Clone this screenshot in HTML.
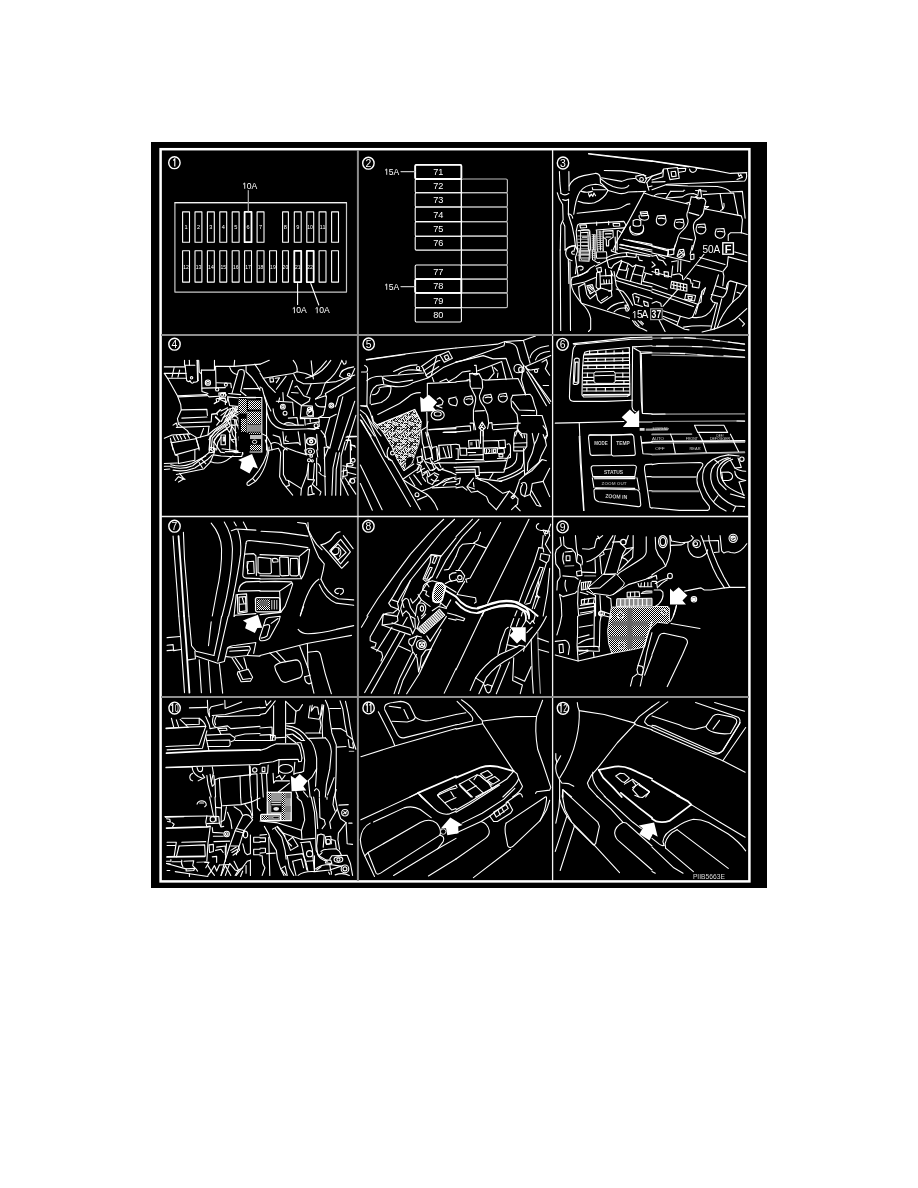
<!DOCTYPE html>
<html><head><meta charset="utf-8"><title>Fuse locations</title>
<style>
html,body{margin:0;padding:0;background:#fff;}
body{width:918px;height:1188px;overflow:hidden;font-family:"Liberation Sans",sans-serif;}
svg{display:block;position:absolute;left:0;top:0;will-change:transform;}
svg text{font-family:"Liberation Sans",sans-serif;fill:#fff;}
.l{vector-effect:non-scaling-stroke;fill:none;stroke:#fff;stroke-width:1.1;stroke-linecap:round;stroke-linejoin:round;}
.t{vector-effect:non-scaling-stroke;fill:none;stroke:#fff;stroke-width:0.8;stroke-linecap:round;stroke-linejoin:round;}
.g{vector-effect:non-scaling-stroke;fill:none;stroke:#9a9a9a;stroke-width:1.2;stroke-linecap:round;stroke-linejoin:round;}
.b{vector-effect:non-scaling-stroke;fill:none;stroke:#fff;stroke-width:1.8;stroke-linejoin:round;stroke-linecap:round;}
.w{fill:#fff;stroke:none;}
.k{vector-effect:non-scaling-stroke;fill:#000;stroke:#fff;stroke-width:1;}
</style></head><body>
<svg width="918" height="1188" viewBox="0 0 918 1188">
<defs>
<pattern id="dots" width="2" height="2" patternUnits="userSpaceOnUse"><rect width="2" height="2" fill="#000"/><rect width="1" height="1" fill="#fff"/><rect x="1" y="1" width="1" height="1" fill="#fff"/></pattern>
<pattern id="dots2" width="3" height="3" patternUnits="userSpaceOnUse"><rect width="3" height="3" fill="#000"/><rect width="1.6" height="1.6" fill="#ddd"/></pattern>
<pattern id="noise" width="16" height="16" patternUnits="userSpaceOnUse"><rect width="16" height="16" fill="#000"/><rect x="0" y="0" width="1" height="1" fill="#fff"/><rect x="1" y="0" width="1" height="1" fill="#fff"/><rect x="3" y="0" width="1" height="1" fill="#fff"/><rect x="4" y="0" width="1" height="1" fill="#888"/><rect x="5" y="0" width="1" height="1" fill="#fff"/><rect x="6" y="0" width="1" height="1" fill="#fff"/><rect x="7" y="0" width="1" height="1" fill="#888"/><rect x="8" y="0" width="1" height="1" fill="#fff"/><rect x="9" y="0" width="1" height="1" fill="#fff"/><rect x="10" y="0" width="1" height="1" fill="#fff"/><rect x="11" y="0" width="1" height="1" fill="#fff"/><rect x="12" y="0" width="1" height="1" fill="#fff"/><rect x="14" y="0" width="1" height="1" fill="#fff"/><rect x="15" y="0" width="1" height="1" fill="#fff"/><rect x="0" y="1" width="1" height="1" fill="#888"/><rect x="2" y="1" width="1" height="1" fill="#888"/><rect x="3" y="1" width="1" height="1" fill="#fff"/><rect x="5" y="1" width="1" height="1" fill="#fff"/><rect x="7" y="1" width="1" height="1" fill="#fff"/><rect x="8" y="1" width="1" height="1" fill="#fff"/><rect x="9" y="1" width="1" height="1" fill="#fff"/><rect x="10" y="1" width="1" height="1" fill="#fff"/><rect x="12" y="1" width="1" height="1" fill="#fff"/><rect x="13" y="1" width="1" height="1" fill="#888"/><rect x="14" y="1" width="1" height="1" fill="#888"/><rect x="15" y="1" width="1" height="1" fill="#fff"/><rect x="0" y="2" width="1" height="1" fill="#888"/><rect x="1" y="2" width="1" height="1" fill="#fff"/><rect x="2" y="2" width="1" height="1" fill="#fff"/><rect x="3" y="2" width="1" height="1" fill="#fff"/><rect x="5" y="2" width="1" height="1" fill="#fff"/><rect x="6" y="2" width="1" height="1" fill="#fff"/><rect x="7" y="2" width="1" height="1" fill="#888"/><rect x="8" y="2" width="1" height="1" fill="#fff"/><rect x="9" y="2" width="1" height="1" fill="#fff"/><rect x="12" y="2" width="1" height="1" fill="#fff"/><rect x="13" y="2" width="1" height="1" fill="#888"/><rect x="14" y="2" width="1" height="1" fill="#888"/><rect x="1" y="3" width="1" height="1" fill="#fff"/><rect x="3" y="3" width="1" height="1" fill="#fff"/><rect x="4" y="3" width="1" height="1" fill="#fff"/><rect x="6" y="3" width="1" height="1" fill="#fff"/><rect x="7" y="3" width="1" height="1" fill="#fff"/><rect x="8" y="3" width="1" height="1" fill="#fff"/><rect x="11" y="3" width="1" height="1" fill="#888"/><rect x="13" y="3" width="1" height="1" fill="#fff"/><rect x="15" y="3" width="1" height="1" fill="#888"/><rect x="0" y="4" width="1" height="1" fill="#888"/><rect x="1" y="4" width="1" height="1" fill="#fff"/><rect x="4" y="4" width="1" height="1" fill="#fff"/><rect x="6" y="4" width="1" height="1" fill="#fff"/><rect x="8" y="4" width="1" height="1" fill="#888"/><rect x="11" y="4" width="1" height="1" fill="#fff"/><rect x="12" y="4" width="1" height="1" fill="#fff"/><rect x="14" y="4" width="1" height="1" fill="#fff"/><rect x="15" y="4" width="1" height="1" fill="#fff"/><rect x="0" y="5" width="1" height="1" fill="#fff"/><rect x="1" y="5" width="1" height="1" fill="#fff"/><rect x="2" y="5" width="1" height="1" fill="#fff"/><rect x="4" y="5" width="1" height="1" fill="#fff"/><rect x="5" y="5" width="1" height="1" fill="#fff"/><rect x="6" y="5" width="1" height="1" fill="#fff"/><rect x="8" y="5" width="1" height="1" fill="#fff"/><rect x="9" y="5" width="1" height="1" fill="#fff"/><rect x="10" y="5" width="1" height="1" fill="#888"/><rect x="14" y="5" width="1" height="1" fill="#fff"/><rect x="15" y="5" width="1" height="1" fill="#fff"/><rect x="0" y="6" width="1" height="1" fill="#fff"/><rect x="3" y="6" width="1" height="1" fill="#fff"/><rect x="4" y="6" width="1" height="1" fill="#fff"/><rect x="5" y="6" width="1" height="1" fill="#fff"/><rect x="6" y="6" width="1" height="1" fill="#fff"/><rect x="7" y="6" width="1" height="1" fill="#fff"/><rect x="8" y="6" width="1" height="1" fill="#888"/><rect x="9" y="6" width="1" height="1" fill="#fff"/><rect x="10" y="6" width="1" height="1" fill="#fff"/><rect x="11" y="6" width="1" height="1" fill="#fff"/><rect x="12" y="6" width="1" height="1" fill="#fff"/><rect x="13" y="6" width="1" height="1" fill="#888"/><rect x="0" y="7" width="1" height="1" fill="#888"/><rect x="1" y="7" width="1" height="1" fill="#888"/><rect x="3" y="7" width="1" height="1" fill="#fff"/><rect x="8" y="7" width="1" height="1" fill="#fff"/><rect x="9" y="7" width="1" height="1" fill="#fff"/><rect x="10" y="7" width="1" height="1" fill="#fff"/><rect x="11" y="7" width="1" height="1" fill="#888"/><rect x="12" y="7" width="1" height="1" fill="#fff"/><rect x="13" y="7" width="1" height="1" fill="#fff"/><rect x="14" y="7" width="1" height="1" fill="#fff"/><rect x="15" y="7" width="1" height="1" fill="#fff"/><rect x="0" y="8" width="1" height="1" fill="#fff"/><rect x="1" y="8" width="1" height="1" fill="#fff"/><rect x="2" y="8" width="1" height="1" fill="#fff"/><rect x="3" y="8" width="1" height="1" fill="#fff"/><rect x="4" y="8" width="1" height="1" fill="#fff"/><rect x="5" y="8" width="1" height="1" fill="#fff"/><rect x="6" y="8" width="1" height="1" fill="#fff"/><rect x="8" y="8" width="1" height="1" fill="#888"/><rect x="9" y="8" width="1" height="1" fill="#fff"/><rect x="10" y="8" width="1" height="1" fill="#fff"/><rect x="11" y="8" width="1" height="1" fill="#fff"/><rect x="12" y="8" width="1" height="1" fill="#fff"/><rect x="13" y="8" width="1" height="1" fill="#fff"/><rect x="0" y="9" width="1" height="1" fill="#fff"/><rect x="1" y="9" width="1" height="1" fill="#fff"/><rect x="2" y="9" width="1" height="1" fill="#fff"/><rect x="3" y="9" width="1" height="1" fill="#fff"/><rect x="4" y="9" width="1" height="1" fill="#fff"/><rect x="5" y="9" width="1" height="1" fill="#fff"/><rect x="7" y="9" width="1" height="1" fill="#fff"/><rect x="8" y="9" width="1" height="1" fill="#fff"/><rect x="10" y="9" width="1" height="1" fill="#888"/><rect x="11" y="9" width="1" height="1" fill="#fff"/><rect x="12" y="9" width="1" height="1" fill="#888"/><rect x="13" y="9" width="1" height="1" fill="#fff"/><rect x="14" y="9" width="1" height="1" fill="#888"/><rect x="2" y="10" width="1" height="1" fill="#fff"/><rect x="3" y="10" width="1" height="1" fill="#fff"/><rect x="4" y="10" width="1" height="1" fill="#fff"/><rect x="6" y="10" width="1" height="1" fill="#888"/><rect x="8" y="10" width="1" height="1" fill="#fff"/><rect x="9" y="10" width="1" height="1" fill="#fff"/><rect x="0" y="11" width="1" height="1" fill="#fff"/><rect x="1" y="11" width="1" height="1" fill="#888"/><rect x="2" y="11" width="1" height="1" fill="#fff"/><rect x="3" y="11" width="1" height="1" fill="#fff"/><rect x="4" y="11" width="1" height="1" fill="#fff"/><rect x="5" y="11" width="1" height="1" fill="#fff"/><rect x="6" y="11" width="1" height="1" fill="#fff"/><rect x="9" y="11" width="1" height="1" fill="#fff"/><rect x="13" y="11" width="1" height="1" fill="#fff"/><rect x="14" y="11" width="1" height="1" fill="#fff"/><rect x="15" y="11" width="1" height="1" fill="#fff"/><rect x="0" y="12" width="1" height="1" fill="#fff"/><rect x="1" y="12" width="1" height="1" fill="#fff"/><rect x="2" y="12" width="1" height="1" fill="#888"/><rect x="5" y="12" width="1" height="1" fill="#fff"/><rect x="8" y="12" width="1" height="1" fill="#fff"/><rect x="13" y="12" width="1" height="1" fill="#fff"/><rect x="14" y="12" width="1" height="1" fill="#fff"/><rect x="0" y="13" width="1" height="1" fill="#fff"/><rect x="3" y="13" width="1" height="1" fill="#fff"/><rect x="4" y="13" width="1" height="1" fill="#fff"/><rect x="7" y="13" width="1" height="1" fill="#fff"/><rect x="8" y="13" width="1" height="1" fill="#fff"/><rect x="9" y="13" width="1" height="1" fill="#fff"/><rect x="12" y="13" width="1" height="1" fill="#fff"/><rect x="0" y="14" width="1" height="1" fill="#fff"/><rect x="1" y="14" width="1" height="1" fill="#888"/><rect x="2" y="14" width="1" height="1" fill="#fff"/><rect x="3" y="14" width="1" height="1" fill="#fff"/><rect x="5" y="14" width="1" height="1" fill="#888"/><rect x="6" y="14" width="1" height="1" fill="#888"/><rect x="8" y="14" width="1" height="1" fill="#fff"/><rect x="11" y="14" width="1" height="1" fill="#fff"/><rect x="12" y="14" width="1" height="1" fill="#fff"/><rect x="13" y="14" width="1" height="1" fill="#fff"/><rect x="14" y="14" width="1" height="1" fill="#fff"/><rect x="15" y="14" width="1" height="1" fill="#888"/><rect x="0" y="15" width="1" height="1" fill="#fff"/><rect x="1" y="15" width="1" height="1" fill="#fff"/><rect x="2" y="15" width="1" height="1" fill="#fff"/><rect x="4" y="15" width="1" height="1" fill="#fff"/><rect x="5" y="15" width="1" height="1" fill="#fff"/><rect x="6" y="15" width="1" height="1" fill="#888"/><rect x="8" y="15" width="1" height="1" fill="#fff"/><rect x="10" y="15" width="1" height="1" fill="#888"/><rect x="11" y="15" width="1" height="1" fill="#888"/><rect x="12" y="15" width="1" height="1" fill="#888"/><rect x="13" y="15" width="1" height="1" fill="#fff"/><rect x="14" y="15" width="1" height="1" fill="#fff"/><rect x="15" y="15" width="1" height="1" fill="#fff"/></pattern>
</defs>
<rect x="151" y="142" width="616" height="746" fill="#000"/>
<!-- 00_frame.svg -->
<g id="frame">
<rect x="160.6" y="149.2" width="588.8" height="732.2" fill="none" stroke="#fff" stroke-width="2.5"/>
<line x1="357.9" y1="150" x2="357.9" y2="881" stroke="#8e8e8e" stroke-width="2"/>
<line x1="552.6" y1="150" x2="552.6" y2="881" stroke="#f4f4f4" stroke-width="1.3"/>
<line x1="161" y1="335" x2="749" y2="335" stroke="#8e8e8e" stroke-width="2"/>
<line x1="161" y1="516.5" x2="749" y2="516.5" stroke="#f4f4f4" stroke-width="1.3"/>
<line x1="161" y1="696.9" x2="749" y2="696.9" stroke="#8e8e8e" stroke-width="2"/>
</g>
<!-- 05_clips.svg -->
<defs>
<clipPath id="cp3"><rect x="553.5" y="150.5" width="194.5" height="183.5"/></clipPath>
<clipPath id="cp4"><rect x="162" y="336" width="195" height="180"/></clipPath>
<clipPath id="cp5"><rect x="359" y="336" width="193" height="180"/></clipPath>
<clipPath id="cp6"><rect x="553.5" y="336" width="194.5" height="180"/></clipPath>
<clipPath id="cp7"><rect x="162" y="517.5" width="195" height="178.5"/></clipPath>
<clipPath id="cp8"><rect x="359" y="517.5" width="193" height="178.5"/></clipPath>
<clipPath id="cp9"><rect x="553.5" y="517.5" width="194.5" height="178.5"/></clipPath>
<clipPath id="cp10"><rect x="162" y="698" width="195" height="182"/></clipPath>
<clipPath id="cp11"><rect x="359" y="698" width="193" height="182"/></clipPath>
<clipPath id="cp12"><rect x="553.5" y="698" width="194.5" height="182"/></clipPath>
</defs>
<!-- 100_p10.svg -->
<g clip-path="url(#cp10)">
<g id="p10a" transform="translate(160,697) scale(0.108932)">
<path class="l" d="M270 100L430 95"/>
<path class="l" d="M435 30L440 140L455 180"/>
<path class="l" d="M455 180L450 120L470 90L580 65"/>
<path class="l" d="M595 30L598 105L750 45"/>
<path class="l" d="M480 170L600 160L800 110L918 95"/>
<path class="l" d="M540 180L918 170"/>
<path class="l" d="M105 195L125 275"/>
<path class="l" d="M150 210L170 270"/>
<path class="l" d="M185 205L250 270"/>
<path class="l" d="M200 195L360 195L360 250L240 255"/>
<path class="l" d="M55 285L420 270"/>
<path class="l" d="M55 290L260 278"/>
<path class="l" d="M360 195Q410 230 420 270L360 440L55 455"/>
<path class="l" d="M420 180L450 250L460 290"/>
<path class="l" d="M430 310L390 470L65 485"/>
<path class="l" d="M490 180Q470 230 500 270L520 280"/>
<path class="l" d="M520 175Q490 220 510 255"/>
<path class="l" d="M520 175L540 180"/>
<path class="l" d="M460 290L520 280L620 265L650 290L918 270"/>
<path class="l" d="M530 290L610 285L615 305L545 310Z"/>
<path class="l" d="M545 310L560 345"/>
<path class="l" d="M430 350L640 340L660 355L690 375L680 400L650 410"/>
<path class="l" d="M430 400L640 395L645 440L630 455L440 455"/>
<path class="l" d="M690 360L780 340L918 335"/>
<path class="l" d="M690 400L918 400"/>
<path class="l" d="M420 360L450 495"/>
<path class="b" d="M60 515L450 495L918 485"/>
<path class="l" d="M55 645L480 632L918 620"/>
<path class="l" d="M55 650L300 642"/>
<path class="l" d="M295 645Q300 700 350 730L390 745"/>
<path class="l" d="M340 645Q350 690 375 685Q395 680 390 645"/>
<path class="l" d="M300 700Q260 720 280 760L300 770"/>
<path class="l" d="M390 710L410 740L350 770"/>
<path class="l" d="M480 640L490 700L470 780L480 820L500 800L495 720"/>
<path class="l" d="M430 720L440 800L470 918"/>
<path class="l" d="M460 710L470 780"/>
<path class="l" d="M505 760L510 918"/>
<path class="l" d="M505 760L540 745L820 715"/>
<path class="l" d="M545 750L555 918"/>
<path class="l" d="M735 725L740 918"/>
<path class="l" d="M820 630L825 760L835 918"/>
<path class="b" d="M825 640L828 720"/>
<circle class="l" cx="870" cy="670" r="20"/>
<path class="l" d="M830 710L890 705L895 918"/>
</g>
<g id="p10b" transform="translate(260,697) scale(0.108932)">
<path class="l" d="M50 35L60 80L100 35"/>
<path class="l" d="M140 35L50 150L0 160"/>
<path class="l" d="M0 100L50 95"/>
<path class="l" d="M125 80L125 370"/>
<path class="l" d="M235 40L330 130L360 120L390 70"/>
<path class="l" d="M235 40L235 420"/>
<path class="l" d="M330 130L320 240L240 245"/>
<path class="l" d="M245 265Q360 270 440 380L600 375"/>
<path class="l" d="M245 290Q340 300 400 390"/>
<path class="l" d="M420 330L560 330"/>
<path class="l" d="M460 80L445 190L540 205L560 170L580 80"/>
<path class="l" d="M480 75L470 130L500 90L530 95L540 160"/>
<path class="l" d="M570 70L550 200L560 260L545 330"/>
<path class="l" d="M585 75L570 240L575 370"/>
<path class="l" d="M600 30Q640 100 640 200L660 330L700 440L700 660L690 918"/>
<path class="l" d="M735 35L760 110L780 250L800 350L850 390L880 480"/>
<path class="l" d="M785 40L810 150L830 280L850 390"/>
<path class="l" d="M640 105L740 105"/>
<path class="l" d="M660 290L740 290L790 320"/>
<path class="l" d="M705 460L790 455"/>
<path class="g" d="M820 500L860 500"/>
<path class="l" d="M810 390L820 460L860 470L850 420"/>
<path class="l" d="M0 285L110 275L115 400L0 400"/>
<path class="l" d="M0 350L100 345"/>
<path class="l" d="M95 350L100 400L140 395L140 355Z"/>
<path class="l" d="M140 375L240 370"/>
<path class="l" d="M240 350L300 340L380 400L410 400"/>
<path class="l" d="M250 360L330 420"/>
<path class="l" d="M310 350L370 390"/>
<path class="l" d="M0 490Q60 480 100 450L150 430L340 430Q360 440 370 480L385 560"/>
<path class="l" d="M340 420L375 420L400 500L410 580L400 680"/>
<path class="l" d="M440 380Q500 420 520 560L520 660L480 730L440 770"/>
<path class="l" d="M600 375Q650 420 655 500L640 660L610 800L600 918"/>
<path class="l" d="M0 610L120 595L170 575L350 572L355 595L380 590L385 560"/>
<path class="l" d="M175 575L170 700"/>
<path class="l" d="M320 600L310 710L330 700L385 690L400 680"/>
<ellipse class="l" cx="235" cy="660" rx="65" ry="40"/>
<path class="l" d="M20 645L45 645L45 685L20 685Z"/>
<path class="l" d="M0 700L70 700L75 625"/>
<path class="l" d="M15 710L30 918"/>
<path class="l" d="M60 705L70 918"/>
<path class="l" d="M120 700L125 790L140 770L270 770"/>
<path class="l" d="M150 740L180 720L200 760L230 720"/>
<path class="w" d="M283 722L322 748L365 708L437 772L398 820L425 858L290 865Z"/>
<path class="l" d="M270 790L170 870"/>
<path class="l" d="M445 770L460 918"/>
<path class="l" d="M520 660L510 820"/>
<path class="l" d="M500 860Q520 820 545 870L545 918"/>
<path class="l" d="M400 870L440 918"/>
<path class="l" d="M330 870L350 918"/>
<path class="l" d="M680 740L620 900"/>
<path class="l" d="M700 850L680 918"/>
</g>
<g id="p10c" transform="translate(160,785) scale(0.108932)">
<path class="l" d="M455 110L490 280"/>
<path class="l" d="M505 110L510 200L515 330"/>
<path class="l" d="M555 110L565 180L560 380"/>
<path class="l" d="M740 110L745 170"/>
<path class="l" d="M838 110L840 150L850 280"/>
<path class="l" d="M893 110L895 210L918 235"/>
<path class="l" d="M575 190L745 180L840 155L918 120"/>
<path class="l" d="M510 205L560 210"/>
<path class="l" d="M340 175Q350 145 385 145Q425 150 425 185L410 200"/>
<path class="l" d="M365 165L400 165"/>
<path class="l" d="M45 290L430 285"/>
<path class="l" d="M50 295L220 290"/>
<path class="b" d="M60 395L430 385L460 380"/>
<path class="l" d="M430 285L420 340L430 385"/>
<path class="l" d="M60 310L90 315L95 340L70 335"/>
<path class="l" d="M110 345L130 360L115 385"/>
<path class="l" d="M430 285L540 290L545 350L430 355"/>
<circle class="l" cx="485" cy="315" r="25"/>
<path class="l" d="M545 350L560 385L585 380"/>
<path class="l" d="M610 200L590 320L560 340"/>
<path class="l" d="M620 250L650 330L660 400"/>
<path class="l" d="M680 200L740 240L760 280L730 340"/>
<path class="l" d="M780 180L830 240L850 300"/>
<path class="l" d="M760 280Q800 260 830 290L850 320L770 420L740 520L700 640"/>
<path class="l" d="M730 340L690 420L640 560L590 720L560 830"/>
<path class="l" d="M690 420L770 440"/>
<path class="l" d="M700 400L780 420"/>
<ellipse class="l" cx="785" cy="455" rx="20" ry="30"/>
<path class="l" d="M480 390L485 435L580 440"/>
<circle class="l" cx="612" cy="450" r="25"/>
<circle class="l" cx="612" cy="450" r="12"/>
<path class="l" d="M490 470L580 470"/>
<path class="l" d="M460 390L440 540L430 700"/>
<path class="l" d="M65 525L150 525L130 655"/>
<path class="l" d="M65 555L140 555"/>
<path class="l" d="M200 525L420 520"/>
<path class="l" d="M175 560L410 550L415 650"/>
<path class="l" d="M175 560L150 660"/>
<path class="b" d="M65 660L410 655"/>
<path class="l" d="M450 550L490 545L490 610L455 620Z"/>
<path class="l" d="M495 520L640 515"/>
<path class="l" d="M520 570L600 560L600 640"/>
<path class="l" d="M510 600L560 590L580 620"/>
<path class="l" d="M480 660L520 655L520 710"/>
<path class="l" d="M610 540L600 700"/>
<path class="l" d="M650 560L720 560L730 600"/>
<path class="l" d="M650 600L700 570M660 620L710 590M670 645L720 610"/>
<path class="l" d="M760 540L780 620L800 640L830 630L830 460"/>
<path class="l" d="M860 480L918 480M860 480L860 525L918 525"/>
<path class="l" d="M860 590L918 590M860 590L860 640L918 640"/>
<path class="l" d="M830 690L800 700L740 780L700 830"/>
<path class="l" d="M830 690L830 830"/>
<path class="l" d="M790 740L790 810"/>
<path class="l" d="M760 790L740 840"/>
<path class="l" d="M60 700L100 700L100 685"/>
<path class="l" d="M60 720L95 725"/>
<path class="l" d="M110 705L200 705"/>
<path class="l" d="M200 690Q190 720 210 750"/>
<path class="l" d="M220 700L310 695L300 740L330 770L345 790"/>
<path class="l" d="M240 770L320 765L310 785L240 790Z"/>
<path class="g" d="M340 710L420 705"/>
<path class="l" d="M410 710L450 710L420 760"/>
<path class="l" d="M60 720L240 770"/>
<path class="l" d="M140 795L270 815L440 840"/>
<path class="l" d="M270 815L270 840"/>
<path class="l" d="M65 785L90 785"/>
<path class="l" d="M440 740L470 790L500 740L520 790L545 735"/>
<path class="l" d="M470 790L440 830"/>
<path class="l" d="M470 790L500 830"/>
<path class="l" d="M545 735L640 730"/>
<path class="l" d="M560 830L600 740L650 830"/>
<path class="l" d="M600 830L640 720L690 780L720 790"/>
<path class="l" d="M680 700L720 780L690 830"/>
<path class="l" d="M720 780L760 760"/>
</g>
<g id="p10d" transform="translate(260,785) scale(0.108932)">
<path class="l" d="M340 110Q345 125 380 150L400 220L410 320L380 420L385 500"/>
<path class="l" d="M470 110L500 250L510 400L515 600L540 650L610 690"/>
<path class="l" d="M492 110L520 260L530 400"/>
<path class="l" d="M545 120L550 300L590 320L600 360L570 400"/>
<path class="l" d="M615 110L615 130"/>
<path class="l" d="M690 110L710 220L640 340L650 400"/>
<path class="l" d="M678 110L670 180L690 240"/>
<path class="l" d="M725 185L810 180"/>
<circle class="l" cx="780" cy="255" r="30"/>
<path class="l" d="M770 245L790 265M765 265L795 245"/>
<path class="l" d="M710 220L740 310L790 345L720 440L715 500L730 590"/>
<path class="l" d="M790 345L800 540L850 545"/>
<path class="l" d="M815 350L845 350"/>
<path class="l" d="M0 330L150 345L380 415"/>
<path class="l" d="M40 380L80 450L100 520L150 600L160 680L190 770L220 830"/>
<path class="l" d="M115 405L160 380L210 440L250 520L290 560"/>
<path class="l" d="M140 400L200 480L230 600L240 680"/>
<path class="l" d="M160 390L230 470"/>
<path class="l" d="M210 440L380 500L500 490"/>
<path class="l" d="M250 520L300 480L350 560L280 600Z"/>
<path class="l" d="M0 460L60 455"/>
<path class="l" d="M0 485L50 485L50 520L0 520"/>
<path class="l" d="M0 580L50 580L50 620L0 625"/>
<path class="l" d="M80 480L90 830"/>
<path class="l" d="M60 630L140 625"/>
<path class="l" d="M0 650L20 650L25 720L45 760L20 830"/>
<path class="l" d="M370 530L460 520L480 590L490 700L500 790"/>
<path class="l" d="M380 540L400 640L430 780"/>
<circle class="l" cx="455" cy="630" r="28"/>
<path class="l" d="M430 700L490 695"/>
<path class="l" d="M240 650L390 630L420 700L440 790"/>
<path class="l" d="M250 650L270 760L310 830"/>
<path class="l" d="M300 700L380 680L400 760"/>
<path class="l" d="M300 700L330 830"/>
<path class="l" d="M190 770L230 745L250 830"/>
<path class="l" d="M200 780L240 830"/>
<path class="l" d="M350 830Q400 790 500 795L640 780L760 740"/>
<path class="l" d="M530 460L560 450L590 460L580 570"/>
<path class="l" d="M530 460L520 560L530 640Q560 690 620 700"/>
<path class="l" d="M600 475L650 470L655 540L610 545Z"/>
<circle class="l" cx="625" cy="520" r="22"/>
<path class="l" d="M655 500L690 510L700 580"/>
<path class="l" d="M560 610Q580 590 620 590L700 585L730 610L750 650"/>
<path class="l" d="M570 620L540 650"/>
<path class="l" d="M500 650L500 790"/>
<path class="l" d="M510 770Q560 730 640 730L740 745"/>
<path class="l" d="M520 780L560 750"/>
<path class="l" d="M640 730L650 790"/>
<path class="l" d="M630 800L640 820M655 795L655 820"/>
<path class="l" d="M640 680L660 650L800 645L830 720L850 830"/>
<ellipse class="l" cx="720" cy="685" rx="40" ry="25"/>
<circle class="l" cx="720" cy="685" r="15"/>
<circle class="l" cx="780" cy="770" r="35"/>
<circle class="l" cx="780" cy="770" r="18"/>
<path class="l" d="M690 825Q760 800 820 830"/>
<path class="l" d="M610 690L650 690L660 720L600 715Z"/>
</g>
</g>
<!-- 10_p1.svg -->
<g id="p1">
<rect x="174.9" y="202.7" width="171.6" height="89.4" class="g" style="stroke:#c8c8c8"/>
<path class="l" d="M174.9 202.7H346.4"/>
<rect x="182.6" y="211.9" width="6.9" height="30.3" class="l"/><text x="186.0" y="229.2" font-size="5.6" text-anchor="middle">1</text>
<rect x="195.0" y="211.9" width="6.9" height="30.3" class="l"/><text x="198.5" y="229.2" font-size="5.6" text-anchor="middle">2</text>
<rect x="207.4" y="211.9" width="6.9" height="30.3" class="l"/><text x="210.9" y="229.2" font-size="5.6" text-anchor="middle">3</text>
<rect x="219.8" y="211.9" width="6.9" height="30.3" class="l"/><text x="223.3" y="229.2" font-size="5.6" text-anchor="middle">4</text>
<rect x="232.2" y="211.9" width="6.9" height="30.3" class="l"/><text x="235.7" y="229.2" font-size="5.6" text-anchor="middle">5</text>
<rect x="244.6" y="211.9" width="6.9" height="30.3" class="b"/><text x="248.1" y="229.2" font-size="5.6" text-anchor="middle">6</text>
<rect x="257.1" y="211.9" width="6.9" height="30.3" class="l"/><text x="260.5" y="229.2" font-size="5.6" text-anchor="middle">7</text>
<rect x="282.6" y="211.9" width="5.8" height="30.3" class="l"/><text x="285.4" y="229.2" font-size="5.6" text-anchor="middle">8</text>
<rect x="294.3" y="211.9" width="6.9" height="30.3" class="l"/><text x="297.7" y="229.2" font-size="5.6" text-anchor="middle">9</text>
<rect x="306.8" y="211.9" width="6.9" height="30.3" class="l"/><text x="310.1" y="229.2" font-size="5.6" text-anchor="middle" textLength="5.6" lengthAdjust="spacingAndGlyphs">10</text>
<rect x="319.1" y="211.9" width="6.9" height="30.3" class="l"/><text x="322.6" y="229.2" font-size="5.6" text-anchor="middle" textLength="5.6" lengthAdjust="spacingAndGlyphs">11</text>
<rect x="331.6" y="211.9" width="6.9" height="30.3" class="l"/>
<rect x="182.6" y="250.8" width="6.9" height="31.3" class="l"/><text x="186.0" y="268.6" font-size="5.6" text-anchor="middle" textLength="5.6" lengthAdjust="spacingAndGlyphs">12</text>
<rect x="195.0" y="250.8" width="6.9" height="31.3" class="l"/><text x="198.5" y="268.6" font-size="5.6" text-anchor="middle" textLength="5.6" lengthAdjust="spacingAndGlyphs">13</text>
<rect x="207.4" y="250.8" width="6.9" height="31.3" class="l"/><text x="210.9" y="268.6" font-size="5.6" text-anchor="middle" textLength="5.6" lengthAdjust="spacingAndGlyphs">14</text>
<rect x="219.8" y="250.8" width="6.9" height="31.3" class="l"/><text x="223.3" y="268.6" font-size="5.6" text-anchor="middle" textLength="5.6" lengthAdjust="spacingAndGlyphs">15</text>
<rect x="232.2" y="250.8" width="6.9" height="31.3" class="l"/><text x="235.7" y="268.6" font-size="5.6" text-anchor="middle" textLength="5.6" lengthAdjust="spacingAndGlyphs">16</text>
<rect x="244.6" y="250.8" width="6.9" height="31.3" class="l"/><text x="248.1" y="268.6" font-size="5.6" text-anchor="middle" textLength="5.6" lengthAdjust="spacingAndGlyphs">17</text>
<rect x="257.1" y="250.8" width="6.9" height="31.3" class="l"/><text x="260.5" y="268.6" font-size="5.6" text-anchor="middle" textLength="5.6" lengthAdjust="spacingAndGlyphs">18</text>
<rect x="269.6" y="250.8" width="6.9" height="31.3" class="l"/><text x="272.9" y="268.6" font-size="5.6" text-anchor="middle" textLength="5.6" lengthAdjust="spacingAndGlyphs">19</text>
<rect x="282.6" y="250.8" width="5.8" height="31.3" class="l"/><text x="285.4" y="268.6" font-size="5.6" text-anchor="middle" textLength="5.6" lengthAdjust="spacingAndGlyphs">20</text>
<rect x="294.3" y="250.8" width="6.9" height="31.3" class="b"/><text x="297.7" y="268.6" font-size="5.6" text-anchor="middle" textLength="5.6" lengthAdjust="spacingAndGlyphs">21</text>
<rect x="306.8" y="250.8" width="6.9" height="31.3" class="b"/><text x="310.1" y="268.6" font-size="5.6" text-anchor="middle" textLength="5.6" lengthAdjust="spacingAndGlyphs">22</text>
<rect x="319.1" y="250.8" width="6.9" height="31.3" class="l"/>
<rect x="331.6" y="250.8" width="6.9" height="31.3" class="l"/>
<path class="g" style="stroke:#b0b0b0" d="M248.3 190.5V211"/>
<path class="l" d="M297.6 283.5V304.5M310.8 283.5L318.8 305"/>
<path d="M243.00 184.36L244.72 182.94V188.80" fill="none" stroke="#fff" stroke-width="0.90"/><text x="246.63" y="188.80" font-size="8.6">0A</text>
<path d="M292.70 308.76L294.42 307.34V313.20" fill="none" stroke="#fff" stroke-width="0.90"/><text x="296.33" y="313.20" font-size="8.6">0A</text>
<path d="M315.50 308.76L317.22 307.34V313.20" fill="none" stroke="#fff" stroke-width="0.90"/><text x="319.13" y="313.20" font-size="8.6">0A</text>
</g>
<!-- 110_p11.svg -->
<g clip-path="url(#cp11)">
<g id="p11a" transform="translate(356,697) scale(0.108932)">
<path class="l" d="M270 75Q290 55 340 50L410 40Q470 45 495 80L545 185Q540 215 470 230L330 222"/>
<path class="l" d="M270 75Q255 95 265 120L380 345Q400 380 440 375L918 255"/>
<path class="l" d="M305 85L410 100"/>
<path class="l" d="M440 115L480 200"/>
<path class="l" d="M545 185Q600 230 680 215L918 160"/>
<path class="l" d="M205 135L330 380L355 445"/>
<path class="l" d="M45 548L355 450L918 290"/>
<path class="b" d="M570 880L918 730"/>
<path class="l" d="M495 918L570 880"/>
<path class="l" d="M570 880L600 918"/>
<path class="l" d="M750 900Q760 880 800 865L918 810"/>
<path class="l" d="M750 900L760 918"/>
<path class="l" d="M870 870L900 918"/>
</g>
<g id="p11b" transform="translate(456,697) scale(0.108932)">
<path class="l" d="M10 40L100 130Q170 190 150 220L30 250L0 255"/>
<path class="l" d="M0 160L90 145"/>
<path class="l" d="M50 25Q150 90 200 170L240 215L245 245L0 295"/>
<path class="l" d="M245 220L550 180L740 178L795 30"/>
<path class="l" d="M740 178Q720 300 750 480L800 620L870 830L860 855L740 870L730 885"/>
<path class="l" d="M245 245L530 680"/>
<path class="l" d="M530 680L560 705L575 750"/>
<path class="b" d="M0 740L230 645Q300 625 380 640L530 680"/>
<path class="l" d="M530 680L470 750L330 840L180 918"/>
<path class="l" d="M575 750Q560 800 480 870L430 918"/>
<path class="l" d="M575 750L610 820Q600 860 520 918"/>
<path class="l" d="M30 800L190 715L215 720L330 810"/>
<path class="l" d="M30 800L40 820L140 918"/>
<path class="l" d="M30 800L150 918"/>
<path class="l" d="M120 760L250 880"/>
<path class="l" d="M105 860L185 815"/>
<path class="l" d="M165 760L195 715"/>
<path class="l" d="M225 705L290 675L335 715L270 745Z"/>
<path class="l" d="M290 765L355 730L400 765L340 800Z"/>
<path class="l" d="M215 720L300 790L330 840"/>
<path class="l" d="M0 810L10 830"/>
</g>
<g id="p11c" transform="translate(356,785) scale(0.108932)">
<path class="l" d="M45 320L570 75"/>
<path class="l" d="M570 75L600 110L720 220Q780 280 860 265L918 240"/>
<path class="l" d="M585 85L700 200"/>
<path class="l" d="M160 340L440 210Q520 185 590 225L690 300"/>
<path class="l" d="M130 350Q50 390 40 500Q45 580 80 650L170 840"/>
<path class="l" d="M80 650L110 620L590 345Q680 300 740 350Q790 410 770 460"/>
<path class="l" d="M110 620L185 810Q200 830 240 800L770 460"/>
<path class="l" d="M770 460Q820 470 800 520L750 585"/>
<path class="l" d="M345 830L750 585L918 490"/>
<path class="l" d="M665 835L918 680"/>
<path class="l" d="M750 95L870 40L918 30"/>
<path class="l" d="M750 95L760 110L880 230L918 215"/>
<path class="l" d="M820 160L918 115"/>
</g>
<g id="p11d" transform="translate(456,785) scale(0.108932)">
<path class="l" d="M0 230L120 160L380 0"/>
<path class="l" d="M0 250L130 175L400 0"/>
<path class="l" d="M55 350L240 260L440 130L540 30"/>
<path class="l" d="M0 440L230 335Q290 350 305 420Q310 460 270 490L0 680"/>
<path class="l" d="M230 335L310 285L345 335"/>
<path class="l" d="M310 285L480 155L520 230L500 260L380 335L345 335"/>
<path class="l" d="M345 250L460 180L480 215L370 295Z"/>
<path class="l" d="M385 230L405 275M420 210L440 250"/>
<path class="l" d="M610 110Q600 60 560 90L460 160"/>
<path class="l" d="M460 350L820 110Q835 100 830 140Q820 240 770 330"/>
<path class="l" d="M460 350Q440 400 460 480L475 560Q490 585 520 565L770 330L830 230L860 140"/>
<path class="l" d="M500 590L160 850"/>
</g>
</g>
<!-- 120_p12.svg -->
<g clip-path="url(#cp12)">
<g id="p12a" transform="translate(552,697) scale(0.108932)">
<path class="l" d="M232 50Q235 100 250 125L480 160L760 240"/>
<path class="l" d="M250 125Q255 250 225 380Q180 580 70 745"/>
<path class="l" d="M918 90L800 180L755 235L770 255L918 300"/>
<path class="l" d="M918 150Q860 180 850 230L880 260L918 270"/>
<path class="l" d="M760 250L600 420L410 665"/>
<path class="b" d="M430 670L540 645Q640 625 720 660L918 750"/>
<path class="b" d="M430 670L470 740L560 830L640 918"/>
<path class="l" d="M410 665L360 720L325 790L340 830L420 918"/>
<path class="l" d="M375 690Q360 760 420 840L490 918"/>
<path class="l" d="M35 520Q30 570 45 600L80 540"/>
<path class="l" d="M45 600Q20 650 50 720L70 760L70 918"/>
<path class="l" d="M70 760L90 790L150 795L200 820"/>
<path class="l" d="M95 918L100 850L180 918"/>
<path class="g" d="M100 860L105 918"/>
<path class="l" d="M585 725L625 700L665 705L710 745L665 785L640 775Z"/>
<path class="l" d="M665 800L740 755L895 870L860 918"/>
<path class="l" d="M740 830L800 795"/>
<path class="l" d="M740 770L770 810L740 850L800 918"/>
<path class="l" d="M800 810L890 865"/>
</g>
<g id="p12b" transform="translate(652,697) scale(0.108932)">
<path class="l" d="M0 90L65 45"/>
<path class="l" d="M0 150L145 45"/>
<path class="l" d="M400 50L720 160L790 185Q820 210 800 250L650 490Q620 530 570 505L30 265L0 260"/>
<path class="l" d="M575 50L850 130"/>
<path class="l" d="M0 175L250 255Q340 300 400 295L495 270"/>
<path class="l" d="M495 270L560 175Q580 155 620 160L740 185Q790 200 775 240L720 335Q640 345 570 325Q510 310 495 270"/>
<path class="l" d="M560 295L620 215"/>
<path class="l" d="M0 275L560 520Q610 535 650 495L810 235"/>
<path class="l" d="M0 305L650 585L855 690"/>
<path class="l" d="M650 585L860 280"/>
<path class="b" d="M0 765L250 910"/>
</g>
<g id="p12c" transform="translate(552,785) scale(0.108932)">
<path class="l" d="M70 110L65 200L35 350"/>
<path class="l" d="M70 130Q100 250 180 340L390 555L620 805"/>
<path class="l" d="M100 45L420 340L435 380L400 540L380 550L200 370"/>
<path class="l" d="M100 45L95 100L120 230L180 340"/>
<path class="l" d="M135 290L30 610"/>
<path class="l" d="M205 380L75 785"/>
<path class="l" d="M410 100L540 220L650 340"/>
<path class="l" d="M480 105L520 140L740 340L820 400"/>
<path class="b" d="M632 72L800 210L918 300"/>
<path class="l" d="M650 345Q580 380 575 440Q580 490 620 520L918 780"/>
<path class="l" d="M650 345Q680 340 700 365L918 560"/>
<path class="l" d="M760 95L800 110L830 115L895 65L850 30"/>
</g>
<g id="p12d" transform="translate(652,785) scale(0.108932)">
<path class="b" d="M230 95L330 150L360 180"/>
<path class="b" d="M360 180L160 330Q100 350 40 335L0 310"/>
<path class="l" d="M360 180L620 340L855 480"/>
<path class="l" d="M210 395Q300 330 380 315Q450 315 520 345L700 450Q800 520 860 605"/>
<path class="l" d="M210 395Q110 440 100 520L110 555"/>
<path class="l" d="M230 410Q140 450 120 540L125 580"/>
<path class="l" d="M230 410L700 765"/>
<path class="l" d="M125 580L380 795"/>
<path class="l" d="M0 490L70 545Q90 560 110 555"/>
<path class="l" d="M0 570L200 760L285 810"/>
<path class="l" d="M0 795L30 810"/>
</g>
</g>
<!-- 20_p2.svg -->
<g id="p2">
<rect x="415.2" y="164.8" width="46.2" height="14.2" rx="1.2" class="l"/><text x="438.3" y="175.2" font-size="9.2" text-anchor="middle">71</text>
<rect x="415.2" y="179.0" width="46.2" height="13.7" rx="1.2" class="l"/><text x="438.3" y="189.2" font-size="9.2" text-anchor="middle">72</text>
<rect x="415.2" y="192.7" width="46.2" height="14.3" rx="1.2" class="l"/><text x="438.3" y="203.2" font-size="9.2" text-anchor="middle">73</text>
<rect x="415.2" y="207.0" width="46.2" height="14.6" rx="1.2" class="l"/><text x="438.3" y="217.6" font-size="9.2" text-anchor="middle">74</text>
<rect x="415.2" y="221.6" width="46.2" height="14.6" rx="1.2" class="l"/><text x="438.3" y="232.2" font-size="9.2" text-anchor="middle">75</text>
<rect x="415.2" y="236.2" width="46.2" height="13.9" rx="1.2" class="l"/><text x="438.3" y="246.4" font-size="9.2" text-anchor="middle">76</text>
<rect x="415.2" y="265.0" width="46.2" height="14.1" rx="1.2" class="l"/><text x="438.3" y="275.4" font-size="9.2" text-anchor="middle">77</text>
<rect x="415.2" y="279.1" width="46.2" height="13.8" rx="1.2" class="l"/><text x="438.3" y="289.3" font-size="9.2" text-anchor="middle">78</text>
<rect x="415.2" y="292.9" width="46.2" height="14.8" rx="1.2" class="l"/><text x="438.3" y="303.6" font-size="9.2" text-anchor="middle">79</text>
<rect x="415.2" y="307.7" width="46.2" height="14.3" rx="1.2" class="l"/><text x="438.3" y="318.2" font-size="9.2" text-anchor="middle">80</text>
<rect x="461.4" y="179.0" width="46.0" height="13.7" rx="1.5" class="g" style="stroke:#bdbdbd"/>
<rect x="461.4" y="192.7" width="46.0" height="14.3" rx="1.5" class="g" style="stroke:#bdbdbd"/>
<rect x="461.4" y="207.0" width="46.0" height="14.6" rx="1.5" class="g" style="stroke:#bdbdbd"/>
<rect x="461.4" y="221.6" width="46.0" height="14.6" rx="1.5" class="g" style="stroke:#bdbdbd"/>
<rect x="461.4" y="236.2" width="46.0" height="13.9" rx="1.5" class="g" style="stroke:#bdbdbd"/>
<rect x="461.4" y="250.1" width="46.0" height="14.9" rx="1.5" class="g" style="stroke:#bdbdbd"/>
<rect x="461.4" y="265.0" width="46.0" height="14.1" rx="1.5" class="g" style="stroke:#bdbdbd"/>
<rect x="461.4" y="279.1" width="46.0" height="13.8" rx="1.5" class="g" style="stroke:#bdbdbd"/>
<rect x="461.4" y="292.9" width="46.0" height="14.8" rx="1.5" class="g" style="stroke:#bdbdbd"/>
<path class="l" d="M461.4 179V307.7"/>
<rect x="415.2" y="164.8" width="46.2" height="14.2" rx="1.2" class="b"/>
<rect x="415.2" y="279.1" width="46.2" height="13.8" rx="1.2" class="b"/>
<path class="g" style="stroke:#c0c0c0" d="M401 171.6H415M401 286.6H415"/>
<path d="M385.00 170.36L386.72 168.94V174.80" fill="none" stroke="#fff" stroke-width="0.90"/><text x="388.63" y="174.80" font-size="8.6">5A</text>
<path d="M385.00 285.36L386.72 283.94V289.80" fill="none" stroke="#fff" stroke-width="0.90"/><text x="388.63" y="289.80" font-size="8.6">5A</text>
</g>
<!-- 30_p3.svg -->
<g clip-path="url(#cp3)">
<g id="p3a" transform="translate(552,150) scale(0.108932)">
<path class="l" d="M335 32L918 100"/>
<path class="l" d="M335 36L918 106"/>
<path class="l" d="M480 188L640 192L780 212L862 236"/>
<path class="l" d="M68 198L72 300L82 398"/>
<path class="l" d="M155 198L157 372"/>
<path class="l" d="M82 398Q118 425 155 398"/>
<path class="l" d="M48 392Q60 450 98 500L102 640L80 690L76 918"/>
<path class="l" d="M98 455Q125 472 152 452"/>
<path class="l" d="M152 452L150 590L185 700L205 800L215 880"/>
<path class="l" d="M100 660L118 700L120 918"/>
<path class="l" d="M150 585Q185 590 190 625"/>
<path class="l" d="M157 330Q190 255 290 235L395 215Q430 212 442 245L445 300"/>
<path class="l" d="M455 255L640 288Q700 258 765 262"/>
<path class="l" d="M770 240L840 225L870 262L850 300L800 290L770 262Z"/>
<circle class="l" cx="822" cy="270" r="17"/>
<path class="l" d="M445 262Q500 310 560 335Q640 365 690 340L705 325"/>
<path class="l" d="M445 300Q480 330 515 372"/>
<path class="l" d="M200 590Q215 450 255 385Q300 320 400 315Q470 320 515 370Q480 450 390 485Q310 500 240 470"/>
<path class="l" d="M270 380Q320 395 370 380"/>
<path class="l" d="M370 345L375 365L490 365"/>
<path class="l" d="M335 400L345 430L360 405L375 425L385 395L400 420"/>
<path class="l" d="M515 372L600 395Q650 410 700 385L860 380"/>
<path class="l" d="M230 580L520 550Q620 545 660 515Q690 495 715 495"/>
<path class="l" d="M845 390L700 660L600 830L560 918"/>
<path class="l" d="M845 395L918 420"/>
<path class="l" d="M870 300L918 240"/>
<path class="l" d="M860 262L918 240"/>
<path class="l" d="M880 340L918 330"/>
<path class="l" d="M870 300L890 370"/>
<path class="l" d="M235 690L250 678L660 655L680 690L640 760"/>
<path class="l" d="M235 690L222 745L235 918"/>
<path class="l" d="M410 662L410 690M520 655L520 685"/>
<path class="l" d="M255 690L315 686L318 712L262 716Z"/>
<path class="l" d="M560 675L620 672L622 698L565 700Z"/>
<path class="l" d="M240 740L340 735L350 800L355 918"/>
<path class="l" d="M262 760L262 918M262 760L330 755L335 918"/>
<path class="l" d="M280 800L320 800M275 845L325 845M275 880L330 880"/>
<path class="l" d="M405 735L660 715"/>
<path class="l" d="M410 740L415 918"/>
<path class="l" d="M440 745L445 918"/>
<path class="l" d="M470 745L470 918"/>
<path class="l" d="M380 780L380 918M395 780L395 918"/>
<path class="l" d="M470 745L560 740L562 800L520 830L520 880L500 880L498 820L470 800"/>
<path class="l" d="M600 740L598 918M580 800L585 918"/>
<path class="l" d="M610 740L640 760"/>
<path class="l" d="M490 770L545 768M495 800L540 798"/>
<path class="l" d="M810 570L875 565L880 600L820 605Z"/>
<path class="l" d="M800 600Q790 640 850 645Q900 640 885 600"/>
<path class="l" d="M820 585L870 582"/>
<path class="l" d="M745 650Q780 625 815 650L815 690Q780 710 745 690Z"/>
<path class="l" d="M715 710Q710 760 780 770Q840 765 840 720"/>
<path class="l" d="M720 700Q700 740 740 775Q790 790 830 760Q850 730 835 690"/>
<path class="l" d="M655 820L918 880"/>
<path class="l" d="M620 870L918 918"/>
<path class="l" d="M120 918Q160 880 215 880"/>
</g>
<g id="p3b" transform="translate(652,150) scale(0.108932)">
<path class="l" d="M0 100L340 150L560 185L720 215L870 208"/>
<path class="l" d="M0 104L340 155"/>
<path class="l" d="M790 215L800 245L815 225L830 250L780 270"/>
<path class="l" d="M865 210Q878 260 850 285L480 300L140 315L0 365"/>
<path class="l" d="M0 240L90 210L105 175L150 170"/>
<path class="l" d="M0 275L100 245L105 180"/>
<path class="l" d="M0 295L120 290"/>
<path class="l" d="M140 170L235 160L250 260L165 272Z"/>
<path class="l" d="M175 200L215 195L222 240L182 245Z"/>
<path class="l" d="M240 170L310 168L305 195L250 205"/>
<path class="l" d="M345 175Q350 205 380 205Q405 200 410 172"/>
<path class="l" d="M130 320L330 330L600 335Q690 350 720 385"/>
<path class="l" d="M400 165L470 175"/>
<path class="l" d="M720 385L830 380L855 625"/>
<path class="l" d="M170 380L290 378M170 380L130 440"/>
<path class="l" d="M20 420Q40 395 130 400"/>
<path class="l" d="M130 440L280 430Q320 400 380 400L410 410"/>
<path class="l" d="M0 420L330 495"/>
<path class="l" d="M310 490L340 480L350 500"/>
<path class="l" d="M360 430L480 445L495 470L470 580Q450 620 400 650Q370 680 385 740L400 810L370 918"/>
<path class="l" d="M360 430L330 560Q310 590 330 640Q340 690 280 740Q240 770 230 830L200 918"/>
<path class="l" d="M430 365L445 362L455 430Q430 470 400 430L420 420Z"/>
<path class="l" d="M340 575L430 600"/>
<path class="l" d="M260 805L370 825"/>
<path class="l" d="M480 540L820 605L830 640L820 760"/>
<path class="l" d="M480 520L520 520L490 540"/>
<path class="l" d="M625 400L750 395L790 600"/>
<path class="l" d="M625 400L650 540"/>
<path class="l" d="M660 490Q670 540 630 555"/>
<path class="l" d="M470 410L620 400"/>
<path class="l" d="M820 760L720 760L700 780L700 830"/>
<path class="l" d="M820 760L875 775"/>
<path class="l" d="M50 605L120 600L130 650Q120 690 80 690Q35 680 40 640ZM60 630Q85 620 115 632"/>
<path class="l" d="M215 640L285 635L295 685Q285 725 245 725Q200 715 205 675ZM225 665Q250 655 280 667"/>
<path class="l" d="M415 685L485 680L495 730Q485 770 445 770Q400 760 405 720ZM425 710Q450 700 480 712"/>
<path class="l" d="M590 725L660 720L670 770Q660 810 620 810Q575 800 580 760ZM600 750Q625 740 655 752"/>
<path class="l" d="M0 880L130 910L200 918"/>
<path class="l" d="M290 370L300 370M400 372L500 378"/>
</g>
<g id="p3c" transform="translate(552,240) scale(0.108932)">
<path class="l" d="M75 90L80 830"/>
<path class="l" d="M165 200L170 830"/>
<path class="l" d="M150 180L155 400"/>
<path class="l" d="M215 50Q130 50 125 120Q130 180 185 190"/>
<path class="l" d="M205 100Q180 100 180 118Q185 135 205 130"/>
<path class="l" d="M205 90L215 50L235 100L215 160L225 230L215 310"/>
<path class="l" d="M250 90L250 190L340 195L345 90"/>
<path class="l" d="M270 130L340 130M270 165L340 165M270 100L340 100"/>
<path class="l" d="M370 90L372 180M395 90L395 180M420 90L420 100M470 90L470 100"/>
<path class="k" d="M405 110L500 108L505 165L410 168Z"/>
<path class="l" d="M545 90L545 100L600 120"/>
<path class="l" d="M580 90L585 110"/>
<path class="l" d="M500 165Q560 130 640 120L700 115"/>
<path class="l" d="M490 195Q560 160 640 155L690 150"/>
<path class="l" d="M680 115L690 150L770 160L775 130Z"/>
<path class="l" d="M775 130L900 150"/>
<path class="l" d="M790 150L800 185L830 190"/>
<path class="l" d="M630 40L918 110"/>
<path class="l" d="M620 70L918 140"/>
<path class="l" d="M700 0L918 40"/>
<path class="l" d="M500 165L520 250L545 260L570 225L640 185"/>
<path class="l" d="M380 185L420 210L440 205"/>
<path class="l" d="M400 240L490 195"/>
<path class="l" d="M410 260L450 250L455 290L420 295Z"/>
<path class="l" d="M240 330Q320 300 350 260L390 235"/>
<path class="l" d="M185 345Q280 320 330 290"/>
<path class="l" d="M185 345Q160 400 200 480Q230 530 270 580L720 720"/>
<path class="l" d="M190 410L300 385L400 345"/>
<path class="l" d="M245 430L250 500L265 570"/>
<path class="l" d="M245 430L300 400"/>
<path class="l" d="M270 580Q340 640 355 720L355 820L335 840"/>
<path class="l" d="M235 250Q260 230 285 250Q290 275 260 275"/>
<path class="l" d="M225 230L240 330"/>
<path class="l" d="M640 195L700 215L680 280L610 270Z"/>
<path class="l" d="M770 230L850 250L830 330L740 310Z"/>
<path class="l" d="M850 300L918 320"/>
<path class="l" d="M640 195L590 330"/>
<path class="l" d="M700 215L740 245L770 230"/>
<path class="l" d="M590 330L610 350L830 410L918 430"/>
<path class="l" d="M580 370L918 470"/>
<path class="l" d="M700 260L680 350"/>
<path class="l" d="M740 310L720 380"/>
<path class="l" d="M830 330L820 400"/>
<path class="l" d="M860 310L835 380L918 400"/>
<path class="l" d="M410 300L440 295L445 440L420 450L405 430Z"/>
<path class="l" d="M445 330L545 325L550 400L450 405"/>
<path class="l" d="M475 365L480 400M500 365L500 400M525 365L525 400"/>
<path class="l" d="M545 290L550 460L520 470"/>
<path class="l" d="M490 270L495 330"/>
<path class="l" d="M320 420L370 410L390 470L350 495Z"/>
<path class="l" d="M335 430L370 460M330 450L360 480M345 420L380 450"/>
<path class="l" d="M400 470L450 440L545 470L550 515L450 580L420 550Z"/>
<path class="l" d="M455 555L510 520"/>
<path class="l" d="M300 400L320 500L350 540L400 500"/>
<path class="l" d="M570 290L590 420L640 500L700 600"/>
<path class="l" d="M540 280L560 330"/>
<path class="l" d="M590 450L650 470Q700 520 740 600"/>
<path class="l" d="M510 640Q560 580 660 570"/>
<path class="l" d="M570 660Q610 620 670 625"/>
<path class="l" d="M740 500L760 490L918 540"/>
<path class="l" d="M740 500L760 590L830 610"/>
<path class="l" d="M770 520L800 530L790 570"/>
<path class="l" d="M840 560L880 575L885 610L850 600Z"/>
<path class="l" d="M670 600Q700 590 710 630Q700 660 680 650Z"/>
<path class="l" d="M680 610L700 640"/>
<path class="l" d="M740 740Q770 800 830 815L870 835"/>
<path class="l" d="M760 745L800 790M790 740L830 780M815 745L840 770"/>
</g>
<g id="p3d" transform="translate(652,240) scale(0.108932)">
<path class="l" d="M490 115L290 365"/>
<path class="l" d="M100 610L240 450"/>
<path class="l" d="M60 725L120 840"/>
<path class="l" d="M200 90L215 40"/>
<path class="l" d="M350 130L370 50"/>
<path class="l" d="M150 90L200 80L200 130L150 140Z"/>
<path class="l" d="M355 135L385 130L385 175L355 180Z"/>
<path class="l" d="M250 90L290 85L300 140Q270 180 230 150Z"/>
<path class="l" d="M240 140L290 100M250 160L295 125M255 100L290 140"/>
<path class="l" d="M240 190L235 290M265 190L262 290"/>
<path class="l" d="M0 60L150 100"/>
<path class="l" d="M0 120L140 150"/>
<path class="l" d="M140 150L350 200"/>
<path class="l" d="M140 150L150 100"/>
<path class="l" d="M440 160L670 225"/>
<path class="l" d="M410 230L640 290"/>
<path class="l" d="M760 110L870 140"/>
<path class="l" d="M700 155L870 200"/>
<path class="l" d="M700 155L690 240L650 290L660 330L650 420"/>
<path class="l" d="M610 320L580 420L540 540L560 570L600 580"/>
<path class="l" d="M580 420L680 450"/>
<path class="l" d="M545 500L650 525"/>
<path class="l" d="M680 450Q690 380 720 375L870 420"/>
<path class="l" d="M650 525Q690 500 700 400"/>
<path class="l" d="M780 390L740 570"/>
<path class="l" d="M870 420L800 520L740 570"/>
<path class="l" d="M780 480L810 490"/>
<path class="l" d="M600 580L540 820"/>
<path class="l" d="M640 540L570 820"/>
<path class="l" d="M870 630L760 730"/>
<path class="l" d="M760 730Q640 810 460 845"/>
<path class="l" d="M740 570Q640 680 600 800"/>
<path class="l" d="M370 710Q500 730 560 620L580 580"/>
<path class="l" d="M190 320L250 310L280 330L280 360"/>
<path class="l" d="M320 350L350 360L360 400"/>
<path class="l" d="M380 370L440 385L430 440L370 430L375 395"/>
<path class="l" d="M180 380L320 410L320 470L170 440Z"/>
<path class="l" d="M200 390L200 440M230 395L230 450M260 400L260 455M290 405L290 460"/>
<path class="l" d="M185 410L315 440"/>
<path class="l" d="M310 495L400 510L390 560L300 545Z"/>
<path class="l" d="M330 515L370 520L365 545L335 540Z"/>
<path class="l" d="M0 290L180 340"/>
<path class="l" d="M30 270L60 270L65 320L35 315Z"/>
<path class="l" d="M110 290L150 295L150 340L115 335Z"/>
<path class="l" d="M0 400L140 450"/>
<path class="l" d="M0 450L420 590L450 570L460 470L490 440"/>
<path class="l" d="M0 480L380 610"/>
<path class="l" d="M420 590L380 690L370 710"/>
<path class="l" d="M460 470L400 680"/>
<path class="l" d="M490 440L470 500"/>
<path class="l" d="M0 580L40 565L80 580L85 610"/>
<path class="l" d="M100 650L260 700L230 780"/>
<path class="l" d="M100 700L230 750"/>
<path class="l" d="M100 720L300 820L340 825"/>
<path class="l" d="M260 700L340 720L370 710"/>
<path class="l" d="M290 800Q400 780 540 790"/>
<path class="l" d="M800 720L850 770L830 790"/>
<path class="l" d="M0 150L40 140L60 180L100 190L130 230"/>
<path class="l" d="M0 200L30 230L0 250"/>
<path class="l" d="M60 140L120 170"/>
<path class="l" d="M180 200L230 190"/>
<path class="l" d="M190 240L180 330"/>
</g>
</g>
<!-- 35_p3text.svg -->
<g id="p3lad"><path d="M591.7 234.5H595.5M591.7 236.4H595.5M591.7 238.3H595.5M591.7 240.2H595.5M591.7 242.1H595.5M591.7 244.0H595.5M591.7 245.9H595.5M591.7 247.8H595.5M591.7 249.7H595.5M591.7 251.6H595.5M591.7 253.5H595.5M591.7 255.4H595.5M591.7 257.3H595.5M597.2 232.0H602.8M597.2 234.1H602.8M597.2 236.2H602.8M597.2 238.3H602.8M597.2 240.4H602.8M597.2 242.5H602.8M597.2 244.6H602.8M597.2 246.7H602.8M597.2 248.8H602.8M577.5 236.0H589M577.5 239.2H589M577.5 242.4H589M577.5 245.6H589M577.5 248.8H589M577.5 252.0H589M577.5 255.2H589" fill="none" stroke="#ddd" stroke-width="0.8"/>
<rect x="580.5" y="229.5" width="9.5" height="30.5" rx="2" fill="none" stroke="#ddd" stroke-width="0.9"/></g>
<g id="p3t">
<rect x="700.5" y="243.5" width="21" height="10.5" fill="#000"/>
<text x="711.3" y="252.6" font-size="10" text-anchor="middle">50A</text>
<rect x="722.8" y="242.8" width="10.6" height="11.4" fill="#000" stroke="#fff" stroke-width="1.4"/>
<text x="728.2" y="252.6" font-size="11" font-weight="bold" text-anchor="middle">F</text>
<rect x="630" y="309.5" width="20" height="10" fill="#000"/>
<path d="M632.80 312.94L634.84 311.20V318.20" fill="none" stroke="#fff" stroke-width="0.97"/><text x="636.91" y="318.20" font-size="10.2" textLength="11.3" lengthAdjust="spacing">5A</text>
<rect x="650.6" y="308.8" width="11.6" height="10.8" fill="#000" stroke="#999" stroke-width="1.2"/>
<text x="656.4" y="317.9" font-size="10" font-weight="bold" text-anchor="middle" textLength="9.6" lengthAdjust="spacingAndGlyphs">37</text>
</g>
<!-- 40_p4.svg -->
<g clip-path="url(#cp4)">
<g id="p4a" transform="translate(160,350) scale(0.108932)">
<path class="l" d="M40 155L230 155"/>
<path class="l" d="M40 215L240 215"/>
<path class="l" d="M40 215L70 260L240 260"/>
<path class="l" d="M130 160L110 250M180 185L165 250"/>
<path class="l" d="M225 95L225 140L320 140"/>
<path class="l" d="M270 95L270 140"/>
<path class="l" d="M340 95L345 280"/>
<path class="l" d="M346 95L350 280"/>
<path class="l" d="M355 95L360 200L380 220"/>
<path class="l" d="M230 140L245 280Q270 300 275 280Q290 320 310 295Q340 300 350 280"/>
<circle class="l" cx="290" cy="255" r="11"/>
<path class="l" d="M380 185L500 185L500 95"/>
<path class="l" d="M380 185L385 380L440 400"/>
<path class="l" d="M385 350L600 345"/>
<circle class="l" cx="440" cy="300" r="24"/><circle class="l" cx="440" cy="300" r="12"/>
<path class="l" d="M510 150L680 150L685 95"/>
<path class="l" d="M510 150L515 350"/>
<path class="l" d="M520 300L650 305L655 345"/>
<path class="l" d="M680 150L918 130"/>
<circle class="l" cx="605" cy="318" r="14"/><circle class="l" cx="525" cy="362" r="15"/>
<path class="l" d="M640 160Q660 220 710 225L720 190Q740 170 770 185L775 220L740 380"/>
<path class="l" d="M710 225L660 400"/>
<path class="l" d="M790 150L790 200Q860 260 900 340L918 370"/>
<path class="l" d="M870 130L918 200"/>
<path class="l" d="M770 355L918 355"/>
<path class="l" d="M740 380L790 420"/>
<path class="l" d="M70 260L160 420L190 500L195 550L160 630L170 680"/>
<path class="l" d="M165 420L430 410L450 430L540 425"/>
<path class="l" d="M170 430L430 420"/>
<path class="l" d="M195 550L430 545L435 600"/>
<path class="l" d="M200 625L430 615"/>
<path class="l" d="M175 670L470 660L475 590L520 585L550 550"/>
<path class="l" d="M170 680L250 740L270 770"/>
<path class="l" d="M120 690L150 670L160 700"/>
<path class="l" d="M150 710L450 700"/>
<path class="l" d="M40 810L110 780L280 770L330 800L360 918"/>
<path class="l" d="M95 810L120 918"/>
<path class="l" d="M110 850L330 815"/>
<path class="l" d="M120 790L140 830M150 785L170 825M180 780L200 820M215 775L235 815M250 772L270 810"/>
<path class="l" d="M330 810L440 780L500 730L560 690L620 640"/>
<path class="l" d="M370 800L400 720"/>
<path class="l" d="M440 780L450 700"/>
<path class="l" d="M540 395L600 390L600 430L545 435Z"/>
<path class="l" d="M520 445L600 445L600 500"/>
<path class="l" d="M500 490L540 470L545 445"/>
<circle class="l" cx="570" cy="410" r="14"/>
<path class="l" d="M630 400L740 410"/>
<path class="l" d="M620 430L730 440L720 520L640 510Z"/>
<path class="l" d="M560 600L640 540L700 530"/>
<path class="l" d="M580 620L720 540"/>
<path class="l" d="M600 640L730 560"/>
<path class="l" d="M560 560L620 530"/>
<path class="l" d="M450 918L460 800L520 730L600 680L650 620L720 590"/>
<path class="l" d="M490 918L500 820L560 760L640 700"/>
<path class="l" d="M470 918L480 810L540 745L620 690"/>
<path class="l" d="M620 640L700 640L700 690L640 690Z"/>
<path class="l" d="M560 780L600 780L600 870L560 870Z"/>
<path class="l" d="M640 770L640 918M690 700L700 918"/>
<path class="l" d="M720 800L750 800L750 850"/>
<path class="l" d="M520 918L530 850L560 800"/>
<path class="l" d="M600 700L640 760L660 700L700 760"/>
<path class="l" d="M730 600L780 590L780 640L740 650Z"/>
<path class="l" d="M720 690L760 740L780 700"/>
<path class="l" d="M510 610L550 650L520 690"/>
</g>
<g id="p4b" transform="translate(260,350) scale(0.108932)">
<path class="l" d="M0 130L85 95"/>
<path class="l" d="M0 210L30 260L300 215L340 200L420 215L480 240"/>
<path class="l" d="M305 95Q350 150 340 200"/>
<path class="l" d="M470 100L480 200L490 265"/>
<path class="l" d="M480 240L560 160L610 100"/>
<path class="l" d="M420 260L480 240Q580 200 650 95"/>
<path class="l" d="M310 220L340 280L400 310L470 310L600 300L700 290L870 230"/>
<path class="l" d="M750 95L770 130Q795 130 790 100"/>
<path class="l" d="M600 300Q700 230 750 100"/>
<path class="l" d="M730 240Q740 170 860 155"/>
<path class="l" d="M730 240Q780 280 830 260"/>
<circle class="l" cx="815" cy="225" r="12"/>
<path class="l" d="M870 170L830 260L720 330"/>
<path class="l" d="M720 330L600 400L610 430"/>
<path class="l" d="M870 345L720 430L700 500L690 520"/>
<path class="l" d="M600 300L560 410L510 450"/>
<path class="l" d="M30 260L80 330L140 390"/>
<path class="l" d="M90 260L120 255L125 290L95 295Z"/>
<path class="l" d="M140 260L180 255L150 300"/>
<path class="l" d="M240 240L150 360"/>
<path class="l" d="M300 280L250 420L380 510"/>
<path class="l" d="M320 340L340 330L400 420L460 440L450 470L380 510"/>
<path class="l" d="M470 310L430 410"/>
<path class="l" d="M290 390L350 395"/>
<path class="l" d="M0 340L20 350L60 500L60 918"/>
<path class="l" d="M40 420L70 500L100 560"/>
<path class="l" d="M210 390L215 470"/>
<path class="l" d="M150 470L300 480L310 600"/>
<path class="l" d="M180 440L170 480"/>
<circle class="l" cx="210" cy="520" r="22"/>
<circle class="l" cx="230" cy="580" r="18"/>
<circle class="l" cx="455" cy="545" r="20"/>
<circle class="l" cx="460" cy="575" r="30"/>
<circle class="l" cx="655" cy="510" r="22"/>
<circle class="l" cx="655" cy="510" r="10"/>
<circle class="l" cx="210" cy="520" r="10"/>
<path class="l" d="M380 510L480 515L490 610L370 620L380 510"/>
<path class="l" d="M510 490Q520 530 600 520L580 600L540 620"/>
<path class="l" d="M510 450L600 420L610 430L600 520"/>
<path class="l" d="M60 540Q80 720 240 730L540 720"/>
<path class="l" d="M120 540Q130 670 250 690L400 690"/>
<path class="l" d="M260 625L340 620L350 690"/>
<path class="l" d="M220 680Q270 650 330 690"/>
<path class="l" d="M370 630L540 625L545 660"/>
<path class="l" d="M410 630L415 690M460 630L462 660"/>
<path class="l" d="M430 680L540 660L545 700L500 730L440 720"/>
<circle class="l" cx="515" cy="695" r="18"/>
<path class="l" d="M540 620L640 620L590 800"/>
<path class="l" d="M560 740L600 790L610 880L640 900"/>
<path class="l" d="M640 620L700 590"/>
<path class="l" d="M760 430L640 900"/>
<path class="l" d="M720 918L870 470"/>
<path class="l" d="M780 918L880 600"/>
<path class="l" d="M790 800L885 795"/>
<path class="l" d="M790 830L830 830L840 918"/>
<path class="l" d="M830 870L870 880"/>
<path class="l" d="M20 770L60 790L100 860L110 918"/>
<path class="l" d="M120 780L180 800L200 880"/>
<path class="l" d="M210 750L220 860L350 850L370 870"/>
<path class="l" d="M350 750L370 870"/>
<path class="l" d="M240 790L230 830L260 840"/>
<path class="l" d="M410 770L420 918M520 775L530 918"/>
<ellipse class="l" cx="470" cy="840" rx="40" ry="30"/>
<circle class="l" cx="470" cy="840" r="12"/>
<path class="l" d="M100 860Q150 830 200 880L250 918"/>
<path class="l" d="M440 560L470 530M445 580L480 550"/>
</g>
<g id="p4c" transform="translate(160,420) scale(0.108932)">
<path class="l" d="M140 320L165 330L170 400L320 370L320 275"/>
<path class="l" d="M100 200L140 320L360 260L330 165"/>
<path class="l" d="M40 400L160 395"/>
<path class="l" d="M40 425L100 425"/>
<path class="l" d="M40 455L90 450"/>
<path class="l" d="M100 430Q200 460 300 420L400 340L450 300"/>
<path class="l" d="M120 460Q220 480 320 440L440 360L480 320"/>
<path class="l" d="M150 500L400 450L460 390L490 320"/>
<path class="l" d="M180 490L220 540L170 570"/>
<path class="l" d="M140 555L170 520L230 545"/>
<path class="l" d="M360 390L390 440M380 360L420 400"/>
<path class="l" d="M100 410Q200 440 290 400L420 330"/>
<path class="l" d="M460 380Q560 420 640 350L670 330"/>
<path class="l" d="M490 320L560 330L640 335L750 335L760 300"/>
<path class="l" d="M600 290L750 290L760 200"/>
<path class="l" d="M450 300L460 250L500 260L495 310"/>
</g>
<g id="p4d" transform="translate(260,420) scale(0.108932)">
<path class="l" d="M80 280L170 260L190 300L185 400L180 520L210 580L300 690"/>
<path class="l" d="M215 280L240 255L330 290L430 320"/>
<path class="l" d="M215 280L215 500L240 550L260 555L270 600L240 610"/>
<path class="l" d="M260 555L380 630L375 690"/>
<path class="l" d="M380 630L430 500L445 400"/>
<ellipse class="l" cx="470" cy="195" rx="45" ry="35"/>
<circle class="l" cx="470" cy="195" r="15"/>
<ellipse class="l" cx="460" cy="290" rx="40" ry="30"/>
<circle class="l" cx="460" cy="290" r="14"/>
<circle class="l" cx="470" cy="330" r="12"/>
<circle class="l" cx="450" cy="370" r="14"/>
<circle class="l" cx="480" cy="375" r="10"/>
<path class="l" d="M410 275L420 310"/>
<path class="l" d="M520 275L530 340"/>
<path class="l" d="M440 545L500 550L480 590L560 660L550 690"/>
<path class="l" d="M445 400L440 540"/>
<path class="l" d="M440 690L445 620L470 600L480 670L500 680L440 690"/>
<path class="l" d="M520 350L520 600"/>
<path class="l" d="M530 400Q560 420 555 470"/>
<path class="l" d="M540 480Q560 510 600 520"/>
<path class="l" d="M500 400L490 540"/>
<path class="l" d="M590 250L600 690"/>
<path class="l" d="M630 250L590 350"/>
<path class="l" d="M590 250L630 250"/>
<path class="l" d="M700 300L670 440L660 690"/>
<path class="l" d="M730 300L700 450L695 690"/>
<path class="l" d="M780 200L745 330L740 690"/>
<path class="l" d="M740 540L810 690"/>
<path class="l" d="M780 530L880 680"/>
<path class="l" d="M800 150L885 150"/>
<path class="l" d="M790 185L830 185L830 390"/>
<path class="l" d="M830 230L870 240L875 250"/>
<circle class="l" cx="855" cy="370" r="18"/>
<ellipse class="l" cx="825" cy="410" rx="30" ry="12"/>
<path class="l" d="M760 420L880 440"/>
<path class="l" d="M750 470L800 460L800 510L760 520"/>
<path class="l" d="M800 480L880 500"/>
<circle class="l" cx="850" cy="560" r="20"/>
<path class="l" d="M810 590L830 540L880 530"/>
<path class="l" d="M770 440L760 540"/>
<path class="l" d="M800 400L790 460"/>
</g>
<g id="p4e" transform="translate(205,390) scale(0.065359)">
<path class="l" d="M230 60L300 50L330 80"/>
<path class="l" d="M170 140L180 180L140 210"/>
<path class="l" d="M200 130L330 190L350 130"/>
<path class="l" d="M350 290L250 480"/>
<path class="l" d="M390 300L290 500"/>
<path class="l" d="M430 290L330 470"/>
<path class="l" d="M470 270L370 440"/>
<path class="l" d="M500 260L420 420"/>
<path class="l" d="M420 260L540 380"/>
<path class="l" d="M380 330L520 440"/>
<path class="l" d="M240 300L180 350L190 380"/>
<path class="l" d="M100 370L180 360"/>
<path class="l" d="M160 420L230 480"/>
<path class="l" d="M60 760L150 640L280 560L380 500"/>
<path class="l" d="M130 800L200 680L330 600"/>
<path class="k" d="M390 440L450 450L460 540L400 530Z"/>
<path class="l" d="M400 540L420 680L470 760L480 860"/>
<path class="l" d="M280 720L300 720L300 780L280 780Z"/>
<path class="l" d="M380 680L400 760L440 800"/>
<path class="l" d="M400 760L480 750"/>
<path class="l" d="M520 720L570 740L520 770Z"/>
<path class="l" d="M260 900L570 940L580 980"/>
<path class="l" d="M70 960L140 950L160 900L120 880"/>
<path class="l" d="M80 700L70 900L140 950"/>
<path class="l" d="M140 800L240 950L300 960"/>
<path class="l" d="M420 940L470 960L540 950"/>
<path class="l" d="M500 440L540 560L560 620"/>
<path class="l" d="M470 470L520 600"/>
</g>
</g>
<!-- 45_p4over.svg -->
<g id="p4o">
<rect x="238.5" y="397" width="23.3" height="55" fill="#000"/>
<rect x="239" y="399.2" width="7.8" height="14.3" fill="url(#dots)"/>
<rect x="248" y="400.5" width="12.8" height="9" fill="url(#dots)"/>
<rect x="248" y="411.5" width="12.8" height="12.6" fill="url(#dots)"/>
<rect x="241" y="418.8" width="5.4" height="13" fill="url(#dots)"/>
<rect x="247.6" y="424.6" width="13.6" height="7.2" fill="#8a8a8a"/>
<rect x="249" y="432.5" width="12" height="1.4" fill="url(#dots)"/>
<rect x="250" y="435" width="11" height="4" fill="#bbb"/>
<rect x="250" y="444.8" width="11.4" height="5.6" fill="url(#dots)"/>
<rect x="246.8" y="396.8" width="9.2" height="1.5" fill="#fff"/>
<rect x="242.9" y="434.4" width="6.5" height="17" fill="#000"/>
<rect x="242.6" y="415.2" width="2.2" height="2.2" fill="#000"/>
<path d="M238.5 397.5H261.8V452H249.5" fill="none" stroke="#fff" stroke-width="1.1"/>
<path d="M247.3 411.5V433" fill="none" stroke="#bbb" stroke-width="0.9"/>
<ellipse cx="254.6" cy="441.8" rx="2.2" ry="1.7" fill="#000" stroke="#fff" stroke-width="0.9"/>
<path class="w" d="M252 453.9L258 468.6L253.1 467L249.5 473.5L240 468.3L241.6 461.8L238.1 459.9Z"/>
<path class="l" d="M265.3 440Q268.5 448 266.9 454.2Q264 463 258.8 470.5L252.8 478.1L247.3 482.5Q246 485.5 248.9 485.5L255.5 481.4L259.9 476Q266 467 268.6 452.5L269.1 447"/>
<path class="l" d="M252.5 478.4L255.2 481.2"/>
</g>
<!-- 50_p5.svg -->
<g clip-path="url(#cp5)">
<g id="p5a" transform="translate(356,336) scale(0.108932)">
<path class="l" d="M95 215L450 165L780 125L918 110"/>
<path class="l" d="M95 219L450 170"/>
<path class="l" d="M770 175L850 140L885 205L810 240Z"/>
<path class="l" d="M810 185L840 172L855 205L825 218Z"/>
<path class="l" d="M600 280L735 185L770 175"/>
<path class="l" d="M620 320L750 230L770 225"/>
<path class="l" d="M640 360L760 280"/>
<path class="l" d="M610 285L655 380L690 365L740 190"/>
<circle class="l" cx="570" cy="295" r="15"/>
<path class="l" d="M345 325Q420 285 500 270L560 265"/>
<path class="l" d="M390 350Q430 310 520 310L600 320"/>
<path class="l" d="M250 370L620 340"/>
<path class="l" d="M100 410Q150 365 240 370L255 440"/>
<path class="l" d="M250 385Q330 440 420 420L520 405"/>
<path class="l" d="M240 445L330 460Q450 480 520 430L660 385L800 290L918 240"/>
<path class="l" d="M700 380L715 420"/>
<path class="l" d="M770 420L830 395L850 420L918 380"/>
<path class="l" d="M80 270Q120 290 100 330L50 330"/>
<path class="l" d="M105 340L100 640L50 640"/>
<path class="l" d="M130 620Q120 500 190 455L240 445"/>
<path class="l" d="M210 480Q250 460 320 465Q330 560 230 610L140 630"/>
<path class="l" d="M150 540Q200 540 215 490"/>
<path class="l" d="M200 720Q300 670 400 620L480 560Q520 520 590 520"/>
<path class="l" d="M100 640L130 700L160 800L200 850"/>
<path class="l" d="M40 640L100 650"/>
<path class="l" d="M40 680L90 720L150 810L200 880L230 918"/>
<path class="l" d="M40 720L120 840L170 918"/>
<path class="l" d="M40 770L110 880L140 918"/>
<path class="l" d="M660 435L918 425"/>
<path class="l" d="M655 435L655 560"/>
<path class="l" d="M650 700L655 918"/>
<path class="l" d="M670 860L918 850"/>
<path class="l" d="M800 885L918 880"/>
<path class="l" d="M745 580L770 565L800 600L790 630L740 640"/>
<path class="l" d="M740 640L790 660"/>
<ellipse class="l" cx="750" cy="725" rx="60" ry="45"/>
<ellipse class="l" cx="750" cy="715" rx="32" ry="20"/>
<path class="l" d="M855 575L918 560"/>
<path class="l" d="M850 600Q850 640 918 640"/>
<path class="l" d="M855 575L850 600"/>
</g>
<g id="p5b" transform="translate(456,336) scale(0.108932)">
<path class="l" d="M0 110L230 90L380 75L450 50L620 40L730 0"/>
<path class="l" d="M0 240L60 225L440 90L450 50"/>
<path class="l" d="M460 60Q540 60 560 110L590 220L620 270"/>
<path class="l" d="M620 45L680 250"/>
<path class="l" d="M680 200Q700 110 850 90"/>
<path class="l" d="M730 220Q750 150 860 140"/>
<path class="l" d="M640 280L870 180"/>
<path class="l" d="M0 240L250 180L340 210L460 205L520 385"/>
<path class="l" d="M200 320L420 235L460 400"/>
<path class="l" d="M330 275L350 340L300 400"/>
<path class="l" d="M350 290L380 320"/>
<path class="l" d="M385 340L380 380"/>
<path class="l" d="M0 380L60 330L130 320"/>
<path class="l" d="M0 420L110 410"/>
<path class="l" d="M170 270L185 268L190 340"/>
<path class="l" d="M150 340Q175 370 210 345"/>
<path class="l" d="M125 345L210 345L240 400L245 470L215 550Q215 600 260 650L290 720L300 800L290 850"/>
<path class="l" d="M125 345L130 460L180 560Q185 600 160 680L160 770L180 860"/>
<path class="l" d="M150 480L225 480"/>
<path class="l" d="M175 690L260 685"/>
<path class="l" d="M245 400L270 405L570 390L640 540"/>
<path class="l" d="M100 405L125 400L130 420"/>
<path class="l" d="M85 560L145 550L157 595Q147 632 110 632Q70 622 73 585ZM93 582Q115 572 143 580"/>
<path class="l" d="M260 545L320 535L332 580Q322 617 285 617Q245 607 248 570ZM268 567Q290 557 318 565"/>
<path class="l" d="M400 535L460 525L472 570Q462 607 425 607Q385 597 388 560ZM408 557Q430 547 458 555"/>
<path class="l" d="M0 570Q25 600 0 640"/>
<path class="l" d="M0 835L130 825L135 870L0 880"/>
<path class="l" d="M130 800L160 800L165 860"/>
<path class="l" d="M300 800L330 795L335 850"/>
<path class="l" d="M210 840L240 790L270 840L240 870Z"/>
<path class="l" d="M225 820L255 850M220 850L250 810"/>
<path class="l" d="M225 870L225 918M250 870L250 918"/>
<path class="l" d="M340 815L590 800"/>
<path class="l" d="M340 860L560 845"/>
<path class="l" d="M520 545L680 535L700 560L720 630L740 690L740 720"/>
<path class="l" d="M520 545L505 580L510 650L560 720L570 800L560 880"/>
<path class="l" d="M520 600L580 680L720 685"/>
<path class="l" d="M600 730L790 730L830 850L840 918"/>
<path class="l" d="M560 880L545 918"/>
<path class="l" d="M570 870L600 918"/>
<circle class="l" cx="570" cy="300" r="38"/>
<circle class="l" cx="600" cy="310" r="25"/>
<path class="l" d="M630 275L870 600"/>
<path class="l" d="M650 330L830 640"/>
<path class="l" d="M690 350L860 620"/>
<path class="l" d="M640 280Q650 320 700 310"/>
<path class="l" d="M790 240L830 215L840 250L820 300L860 360"/>
<path class="l" d="M700 310L760 300"/>
<circle class="l" cx="735" cy="320" r="15"/>
<path class="l" d="M800 455L850 455"/>
<path class="l" d="M620 270L600 400L640 540"/>
</g>
<g id="p5c" transform="translate(356,416) scale(0.108932)">
<path class="l" d="M50 40L240 380L500 830"/>
<path class="l" d="M100 0L170 160L270 370L330 410L430 580L590 860"/>
<path class="l" d="M150 0L160 50L190 80"/>
<path class="l" d="M300 290Q270 340 300 400L330 410"/>
<circle class="l" cx="335" cy="340" r="18"/>
<path class="l" d="M40 450L240 860"/>
<path class="l" d="M40 620L150 865"/>
<path class="l" d="M440 500L530 440"/>
<path class="l" d="M430 580L560 490L600 420"/>
<path class="l" d="M440 590L600 690L680 660L880 570"/>
<path class="l" d="M600 690Q700 730 750 860"/>
<path class="l" d="M565 770L650 735"/>
<circle class="l" cx="560" cy="722" r="18"/>
<path class="l" d="M490 560L540 640M530 540L600 630"/>
<path class="l" d="M660 50L650 100L600 130L610 250L625 290"/>
<path class="l" d="M640 150L680 300"/>
<path class="l" d="M660 150L700 300"/>
<path class="l" d="M670 125L918 105"/>
<path class="l" d="M810 150L918 150"/>
<path class="l" d="M620 290L680 280L700 380L640 400Z"/>
<path class="l" d="M700 290L740 280L770 400L720 420"/>
<path class="l" d="M760 270L918 260"/>
<path class="l" d="M760 270L770 390L880 380L870 270"/>
<path class="l" d="M800 290L830 380M840 280L860 380"/>
<path class="l" d="M750 430L918 430"/>
<path class="l" d="M560 380L600 370L610 420L570 430Z"/>
<path class="l" d="M620 400L680 500L720 490L680 390"/>
<path class="l" d="M700 420L760 500"/>
<path class="l" d="M560 520L600 500L610 550L650 510L660 560L720 520L760 540"/>
<path class="l" d="M650 560L660 610L700 630L750 560L720 540"/>
<path class="l" d="M740 640L820 580L918 560"/>
<path class="l" d="M800 640L830 610L918 600"/>
<path class="l" d="M700 660L918 650"/>
<path class="l" d="M790 490L880 520L918 540"/>
<path class="l" d="M900 470L918 475"/>
<path class="l" d="M905 575L918 580"/>
<path class="l" d="M190 80L560 0"/>
<path class="l" d="M190 80L250 150L330 280L380 400L440 500"/>
<path class="l" d="M560 440L600 460L590 500L630 480"/>
<path class="l" d="M620 520L660 500L680 540"/>
<path class="l" d="M700 500L740 470L770 500L800 480"/>
<path class="l" d="M640 420L700 440"/>
<path class="l" d="M580 470L560 500"/>
<path class="l" d="M720 440L760 430L780 470"/>
<path class="l" d="M610 560L640 600"/>
<path class="l" d="M690 580L720 600L760 590"/>
<path class="l" d="M600 300L615 400"/>
<path class="l" d="M690 300L705 400"/>
<path class="l" d="M740 300L750 400"/>
</g>
<g id="p5d" transform="translate(456,416) scale(0.108932)">
<path class="l" d="M225 140L225 250M250 140L250 400"/>
<path class="l" d="M115 225L210 220L215 290L120 295Z"/>
<rect x="130" y="240" width="22" height="30" fill="#999"/>
<path class="l" d="M185 230L190 290"/>
<path class="l" d="M0 260L30 265L35 295"/>
<path class="l" d="M35 295L95 295L100 360L40 360Z"/>
<path class="l" d="M0 400L250 400"/>
<path class="l" d="M0 430L460 410"/>
<path class="l" d="M100 300L240 295"/>
<path class="l" d="M110 335L180 335"/>
<path class="l" d="M120 360L250 355"/>
<path class="l" d="M0 300L20 300L20 390"/>
<path class="l" d="M250 230L390 225L395 290"/>
<path class="l" d="M260 295L380 290L380 340L265 345Z"/>
<path class="l" d="M280 305L280 335M300 305Q320 320 300 335M330 305L330 335M345 305L365 305L365 335L345 335Z"/>
<path class="l" d="M395 225L450 220L455 290L395 290"/>
<path class="l" d="M390 300L440 295L445 340L390 345"/>
<path class="l" d="M395 350L430 350L430 375L395 375Z"/>
<path class="l" d="M470 260Q500 240 500 290L500 380L450 395"/>
<path class="l" d="M380 390L470 385L500 340"/>
<path d="M170 408L262 403L266 420L175 426Z" fill="#999"/>
<path class="l" d="M0 470L210 465L215 545L180 550L175 490L0 495"/>
<path class="l" d="M0 520L170 515"/>
<path class="l" d="M215 520L440 515L470 400"/>
<path class="l" d="M340 525L310 575"/>
<path class="l" d="M440 490Q540 460 555 400L560 340"/>
<path class="l" d="M380 580Q520 540 600 480L620 430L620 300"/>
<path class="l" d="M400 600Q540 560 620 500"/>
<path class="l" d="M530 220L540 150L570 130L600 160L650 165L650 280L620 320L530 320Z"/>
<path class="l" d="M530 250L650 245"/>
<path class="l" d="M530 285L640 285"/>
<path class="l" d="M600 170L610 200M625 170L630 200"/>
<path class="l" d="M560 90L570 130"/>
<path class="l" d="M700 160L720 260L740 220L760 160"/>
<path class="l" d="M720 260L700 340L660 430L655 500"/>
<path class="l" d="M800 90L830 130L840 170L820 220L830 270L780 370L760 430"/>
<path class="l" d="M800 170L815 210L830 180"/>
<path class="l" d="M620 300L630 540L790 400L830 410"/>
<path class="l" d="M580 590L630 545L700 500L790 400"/>
<path class="l" d="M860 480L800 600L860 740"/>
<path class="l" d="M800 600L700 620L690 680L780 830L740 820L680 720L690 680"/>
<path class="l" d="M580 600L545 700L520 740"/>
<path class="l" d="M600 620Q650 590 650 660L630 740L600 720Q580 670 610 630"/>
<path class="l" d="M630 740L680 720"/>
<path class="l" d="M180 570L230 590L290 610L430 710L490 690L540 730"/>
<path class="l" d="M370 860L490 690"/>
<path class="l" d="M200 690L280 740L300 790L370 860"/>
<path class="l" d="M160 570L100 650L140 700L200 690"/>
<path class="l" d="M110 650L170 670"/>
<path class="l" d="M160 610L165 650"/>
<path class="l" d="M0 580L40 570L30 620L0 630"/>
<path class="l" d="M0 660L60 650L100 680"/>
<path class="l" d="M540 730L570 760L565 810L545 825L510 860"/>
<path class="l" d="M545 825L590 870"/>
<path class="l" d="M505 745L525 730L540 745L520 760Z"/>
<path class="l" d="M220 575L420 600"/>
<path class="l" d="M180 550L230 590"/>
</g>
</g>
<!-- 55_p5over.svg -->
<g id="p5o">
<path d="M377 425L414.8 409.5L421.4 422.3L419.2 443.2L414.8 455.2L412.6 462.8L403.9 470.5L397.4 459.6L391.9 446.5L383.2 432.3Z" fill="url(#dots)"/>
<path d="M377 425L414.8 409.5L421.4 422.3L419.2 443.2L414.8 455.2L412.6 462.8L403.9 470.5L397.4 459.6L391.9 446.5L383.2 432.3Z" fill="url(#noise)" opacity="0.7" stroke="#fff" stroke-width="0.8"/>
<path d="M377 425L414.8 409.5L421.4 422.3" fill="none" stroke="#fff" stroke-width="1.2"/>
<path d="M406.5 458L412.4 456.5L411.5 463.5L405.5 468.5Z" fill="#000"/>
<path class="w" d="M420.1 396.7L423.6 399.1L428.8 394.8L437.2 402.3L433.1 407.1L436.7 410.9L420.9 411.8Z"/>
</g>
<!-- 60_p6.svg -->
<g clip-path="url(#cp6)">
<g id="p6a" transform="translate(552,336) scale(0.108932)">
<path class="l" d="M195 70L450 45L720 15L918 10"/>
<path class="l" d="M200 80L460 55L730 30L918 30"/>
<path class="l" d="M215 90Q195 100 190 150L165 400L160 560Q160 600 200 600L490 600L740 590"/>
<path class="l" d="M300 150L330 140L710 105L715 540L690 555L290 560L275 540L280 300L290 180Z"/>
<path class="b" d="M300 170L710 155"/>
<path class="l" d="M300 205L710 200"/>
<path class="l" d="M300 235L710 225"/>
<path class="b" d="M290 270L710 265"/>
<path class="l" d="M290 300L710 295"/>
<path class="l" d="M290 340L390 340M580 340L710 340M290 380L390 380M580 375L710 375M290 410L390 410M580 410L710 410"/>
<path class="b" d="M290 445L710 440"/>
<path class="l" d="M285 475L710 470"/>
<path class="l" d="M285 505L710 505"/>
<path class="b" d="M290 540L710 538"/>
<path class="l" d="M345 135L345 165M420 135L420 165M495 135L495 165M570 135L570 165M650 135L650 165"/>
<path class="l" d="M330 205L330 232M410 205L410 232M490 205L490 232M570 205L570 232M650 205L650 232"/>
<path class="l" d="M330 270L330 298M410 270L410 298M490 270L490 298M570 270L570 298M650 270L650 298"/>
<path class="l" d="M325 340L325 378M650 340L650 378"/>
<path class="l" d="M320 410L320 440M660 410L660 440"/>
<path class="l" d="M320 475L320 505M405 475L405 505M490 475L490 505M570 475L570 505M655 475L655 505"/>
<path class="k" d="M395 330L570 325L580 345L580 420L560 435L400 435L385 415L385 345Z"/>
<path class="l" d="M395 365L570 360"/>
<path class="l" d="M205 215Q225 195 250 210L245 430Q225 455 195 440Z"/>
<path class="l" d="M215 240L240 240L238 425L205 425Z"/>
<path class="l" d="M740 100L918 90"/>
<path class="l" d="M740 100L735 650Q740 690 770 695"/>
<path class="l" d="M750 110L810 145L918 150"/>
<path class="l" d="M815 160L918 155"/>
<path class="l" d="M810 145L820 600L830 710L918 715"/>
<path class="l" d="M820 170L830 700"/>
<path class="w" d="M800 680L800 835L650 835L690 790L640 745L715 675L760 715Z"/>
<path class="l" d="M30 800L250 795L660 785"/>
<path class="l" d="M250 795L255 918"/>
<path class="l" d="M800 790L918 790"/>
<rect x="805" y="845" width="45" height="25" fill="#ddd"/>
<path class="g" d="M865 855L918 855M865 865L918 865"/>
<path class="l" d="M340 910L740 905"/>
</g>
<g id="p6b" transform="translate(652,336) scale(0.108932)">
<path class="g" d="M0 20L300 15L500 30L850 75"/>
<path class="l" d="M90 20L190 18M300 15L400 20M560 40L620 45M700 55L850 75"/>
<path class="g" d="M0 95L300 95L500 100L850 130"/>
<path class="l" d="M40 93L150 93M370 97L460 99M650 110L850 132"/>
<path class="g" d="M0 155L300 160L500 180L850 195"/>
<path class="g" d="M0 175L300 180L500 185L850 195"/>
<path class="l" d="M170 158L300 162M420 172L560 184M660 182L850 195"/>
<path class="g" d="M0 718L850 715"/>
<path class="l" d="M0 718L120 716"/>
<path class="g" d="M0 785L850 780"/>
<path class="l" d="M780 780L850 783"/>
<path class="l" d="M390 820L660 820L695 885L420 885Z"/>
<path class="g" d="M0 855L150 852M0 865L140 862"/>
<path class="g" d="M0 905L365 900"/>
</g>
<g id="p6c" transform="translate(552,420) scale(0.108932)">
<path class="l" d="M250 150L260 400L290 830"/>
<path class="l" d="M256 150L268 400L294 830"/>
<path class="l" d="M350 135Q335 140 335 160L350 310Q355 325 370 325L545 320L545 140Z"/>
<path class="l" d="M545 140L730 130Q745 135 750 150L765 310Q765 325 750 325L560 330L548 320"/>
<path class="l" d="M375 420Q355 425 360 450L375 520L760 520L775 430Q770 415 750 415Z"/>
<path class="l" d="M385 530L765 530"/>
<path class="l" d="M390 540L760 538"/>
<path class="l" d="M370 530L385 620"/>
<path class="l" d="M780 530L800 640"/>
<path class="l" d="M400 622L760 628"/>
<path class="l" d="M400 630L780 640Q800 645 805 670L815 780Q810 800 790 795L430 750Q395 740 390 710L385 650Q385 635 400 630Z"/>
<path class="l" d="M815 150L835 310L918 315"/>
<path class="b" d="M830 210L918 205"/>
<path class="l" d="M855 415Q845 430 850 460L900 800L918 810"/>
<path class="l" d="M860 410L918 405"/>
<path class="l" d="M870 520L918 520"/>
<path class="l" d="M890 650L918 650"/>
</g>
<g id="p6d" transform="translate(652,420) scale(0.108932)">
<path class="g" d="M0 130L360 130"/>
<path class="l" d="M170 130L195 195"/>
<path class="l" d="M430 125L465 190"/>
<path class="l" d="M720 130L750 190"/>
<path class="b" d="M0 198L850 192"/>
<path class="g" d="M0 212L850 206"/>
<path class="l" d="M195 210L215 310"/>
<path class="l" d="M470 210L500 300"/>
<path class="l" d="M750 200L795 290"/>
<path class="l" d="M0 315L210 310L500 300L850 295"/>
<path class="g" d="M0 320L210 316L500 306L850 300"/>
<path class="l" d="M0 410L60 400L440 390Q475 395 465 420L420 490Q405 550 420 600L470 720L525 790Q535 825 510 830L250 830L0 805"/>
<path class="g" d="M0 520L410 520M0 528L410 528"/>
<path class="g" d="M0 650L430 650M0 658L430 658"/>
<path class="l" d="M700 320Q540 340 480 440Q440 540 500 660Q560 780 680 835"/>
<path class="l" d="M700 345Q590 370 550 450Q520 540 570 630Q640 740 760 790L850 795"/>
<path class="l" d="M720 350Q640 370 605 440Q585 520 620 580L680 640"/>
<path class="l" d="M740 360Q660 385 630 450Q620 530 680 600Q740 650 850 690"/>
<path class="l" d="M720 680L850 715"/>
<path class="l" d="M575 365L610 395"/>
<path class="l" d="M605 695L565 750"/>
<path class="l" d="M770 790L745 840"/>
<path class="l" d="M640 480L700 478Q740 490 740 520Q735 550 700 555L650 555"/>
<path class="l" d="M640 480L650 555"/>
<path class="l" d="M720 370L760 440L820 435L790 350"/>
<path class="l" d="M760 440Q800 470 860 470"/>
<path class="l" d="M760 470Q760 540 860 555"/>
<path class="l" d="M800 570L840 690"/>
<path class="l" d="M800 570L860 555"/>
<circle class="l" cx="825" cy="360" r="20"/>
<path class="l" d="M700 320L800 330"/>
</g>
</g>
<!-- 65_p6text.svg -->
<g id="p6t" font-weight="bold" style="opacity:0.8">
<text x="601" y="445.2" font-size="4.6" text-anchor="middle" textLength="13.5" lengthAdjust="spacingAndGlyphs">MODE</text>
<text x="623" y="445.2" font-size="4.6" text-anchor="middle" textLength="13.5" lengthAdjust="spacingAndGlyphs">TEMP</text>
<text x="613.5" y="474" font-size="5.2" text-anchor="middle" textLength="19" lengthAdjust="spacingAndGlyphs">STATUS</text>
<text x="614.1" y="484.8" font-size="4.4" text-anchor="middle" textLength="25" lengthAdjust="spacingAndGlyphs" style="fill:#bbb">ZOOM OUT</text>
<text x="616.3" y="498.4" font-size="5.6" text-anchor="middle" textLength="22" lengthAdjust="spacingAndGlyphs" transform="rotate(3 616 496)">ZOOM IN</text>
</g>
<g id="p6t2" style="opacity:0.8">
<text x="660.5" y="430.4" font-size="3.6" text-anchor="middle" textLength="16" lengthAdjust="spacingAndGlyphs">SUSPEND</text>
<text x="658" y="440.2" font-size="4" text-anchor="middle" textLength="12" lengthAdjust="spacingAndGlyphs">AUTO</text>
<text x="691.8" y="440" font-size="3.8" text-anchor="middle" textLength="12" lengthAdjust="spacingAndGlyphs">FRONT</text>
<text x="720" y="436.6" font-size="3" text-anchor="middle" textLength="7" lengthAdjust="spacingAndGlyphs">DEF/</text>
<text x="720" y="439.8" font-size="3" text-anchor="middle" textLength="20" lengthAdjust="spacingAndGlyphs">DEFOGGER</text>
<text x="660" y="450.4" font-size="4.2" text-anchor="middle" textLength="9.5" lengthAdjust="spacingAndGlyphs">OFF</text>
<text x="695" y="450.2" font-size="4" text-anchor="middle" textLength="11" lengthAdjust="spacingAndGlyphs">REAR</text>
</g>
<!-- 70_p7.svg -->
<g clip-path="url(#cp7)">
<g id="p7a" transform="translate(160,516) scale(0.108932)">
<path class="l" d="M120 185L135 400L158 700L173 918"/>
<path class="b" d="M170 185L190 450L210 750L221 918"/>
<path class="l" d="M215 150L225 400L250 700L265 918"/>
<path class="l" d="M470 65Q560 170 565 300Q570 480 520 700L480 918"/>
<path class="l" d="M590 55Q660 170 665 300Q665 480 610 750L570 918"/>
<path class="l" d="M715 130Q750 220 740 350Q720 500 670 750L630 918"/>
<path class="l" d="M680 55L700 90"/>
<path class="l" d="M765 55L800 125"/>
<path class="l" d="M655 135L700 120L800 125L880 130"/>
<path class="l" d="M790 250Q790 225 820 225L918 235"/>
<path class="l" d="M790 250L770 400L760 540Q760 570 790 570L918 575"/>
<path class="l" d="M780 350L860 345L880 365L885 545"/>
<path class="l" d="M800 420L860 415L865 525L805 530Z"/>
<path class="l" d="M810 430Q790 470 810 500"/>
<path class="l" d="M900 380L918 380M900 380L900 520L918 525"/>
<path class="l" d="M720 690Q730 620 790 605L918 600"/>
<path class="l" d="M720 690L918 685"/>
<path class="l" d="M710 720L795 715L800 880L715 895Z"/>
<path class="l" d="M725 745L785 740L790 870L730 880Z"/>
<path class="l" d="M730 810L790 805"/>
<path class="l" d="M755 750L770 800"/>
<path class="g" d="M875 760L918 755M875 760L880 870L918 875"/>
<path class="l" d="M700 720L680 918"/>
</g>
<g id="p7b" transform="translate(260,516) scale(0.108932)">
<path class="l" d="M10 140L200 150L440 185"/>
<path class="l" d="M0 235L200 255L440 290"/>
<path class="l" d="M345 60L420 70L440 120L460 180L500 290L540 380L590 440L580 500L560 580"/>
<path class="l" d="M440 60L445 130L480 200L520 260L570 310"/>
<path class="l" d="M0 355L360 370L440 305L455 305L440 420L400 540L380 575L0 578"/>
<path class="l" d="M360 370L365 540L380 575"/>
<path class="l" d="M0 380L100 390L105 520L95 530L0 530"/>
<path class="l" d="M110 395Q140 380 165 400L165 420L120 425Z"/>
<path class="l" d="M180 380L195 375L260 380L265 545L200 550L185 540Z"/>
<path class="l" d="M280 390L340 388L350 400L355 540L340 550L285 548L275 535Z"/>
<path class="l" d="M0 548L180 552"/>
<path class="l" d="M0 605L140 600L290 605L300 625L270 720L230 830L190 885L0 905"/>
<path class="l" d="M180 690L290 615"/>
<path class="l" d="M0 690L180 690L190 885"/>
<path class="l" d="M540 580Q440 640 370 918"/>
<path class="l" d="M545 630Q600 760 700 800L860 820"/>
<path class="l" d="M560 580Q620 720 720 760L860 770"/>
<path class="l" d="M760 670Q700 650 685 690Q700 720 720 710"/>
<path class="l" d="M760 670Q780 700 740 720"/>
<path class="l" d="M560 265Q640 250 680 180Q700 150 735 145"/>
<path class="l" d="M560 265L630 340L750 480L810 420"/>
<path class="l" d="M765 180L855 300"/>
<path class="l" d="M740 215L830 330L740 440L640 320Z"/>
<path class="l" d="M715 255L790 335L715 405L650 325Z"/>
<circle class="l" cx="690" cy="320" r="35"/>
<path class="l" d="M720 290Q760 320 730 370"/>
</g>
<g id="p7c" transform="translate(160,600) scale(0.108932)">
<path class="l" d="M173 147L190 350L225 850"/>
<path class="b" d="M221 147L240 400L270 850"/>
<path class="l" d="M265 147L270 200L290 420L330 470L495 510"/>
<path class="l" d="M470 200L445 420"/>
<path class="l" d="M565 150L540 300L495 510"/>
<path class="l" d="M625 150L590 300L530 560"/>
<path class="l" d="M65 345L185 335"/>
<path class="l" d="M65 415L120 410L125 465L190 455"/>
<path class="l" d="M65 465L120 460"/>
<path class="l" d="M320 470L325 540L260 550"/>
<path class="l" d="M330 515L530 580L590 565L620 440Q640 420 700 415L880 390L860 490"/>
<path class="l" d="M360 550L380 850"/>
<path class="l" d="M445 565L465 850"/>
<path class="l" d="M545 585L575 855"/>
<path class="l" d="M625 440L820 425L830 450L800 510L660 525L610 520"/>
<path class="l" d="M640 470L810 460"/>
<path class="l" d="M800 510L918 515"/>
<path class="l" d="M660 530L730 640"/>
<path class="l" d="M690 530L760 630"/>
<path class="l" d="M770 530L800 640"/>
<path class="l" d="M715 660L810 635L850 710L830 745L745 750L710 680Z"/>
<path class="l" d="M730 665L760 730L830 720"/>
<path class="l" d="M680 150L690 140L880 125"/>
</g>
<g id="p7d" transform="translate(260,600) scale(0.108932)">
<path class="l" d="M350 270Q380 310 440 310Q560 305 700 270L860 235"/>
<path class="l" d="M0 510L430 400L840 325"/>
<path class="l" d="M90 485L185 570"/>
<path class="l" d="M150 475L235 565"/>
<path class="l" d="M135 610Q140 590 190 575L330 550Q360 550 375 590L390 660Q390 700 360 715L240 755Q210 760 190 735L145 650Z"/>
<path class="l" d="M365 425L440 620L495 855"/>
<path class="l" d="M435 400L440 620"/>
<path class="l" d="M440 480L520 470Q545 470 555 500L600 680L655 860"/>
<path class="l" d="M410 705Q410 760 450 770L475 760"/>
<path class="l" d="M410 705L460 690"/>
<path class="l" d="M370 140L400 60"/>
</g>
</g>
<!-- 75_p7over.svg -->
<g id="p7o">
<rect x="255.6" y="597.6" width="24.2" height="14.2" rx="1.5" fill="#000" stroke="#fff" stroke-width="1.3"/>
<rect x="257" y="599.5" width="13" height="10.5" fill="url(#dots)"/>
<rect x="259.5" y="600.5" width="8.5" height="5.5" fill="#666"/>
<path d="M271.8 600V609.5M274.3 600V609.5M276.8 600V609.5" stroke="#ddd" stroke-width="1" fill="none"/>
<path class="w" d="M257.9 614.8L262.2 627.8L257.3 628L254.9 633L245.1 628.3L246.7 622.9L242.9 620.6Z"/>
<path class="l" d="M265.5 619.6Q266.3 618 268.8 617.5L280.2 616.3L279.1 620.7L269.9 637.6Q267.7 640.3 262.2 640.8Q259 640.8 259.5 638.1Z"/>
<path class="l" d="M263.9 625.6L267.7 624.5Q269.9 624.5 269.6 627.2L267.1 635.9Q265.5 637.6 261.1 638.1M271.2 623.4L278 618.5"/>
</g>
<!-- 80_p8.svg -->
<g clip-path="url(#cp8)">
<g id="p8a" transform="translate(356,516) scale(0.108932)">
<path class="l" d="M805 30L680 150L500 350L330 580L200 760L100 918"/>
<path class="l" d="M905 30L790 140L600 370L420 600L340 740L300 800L320 830L370 850"/>
<path class="l" d="M918 200L780 370L690 355L620 440L500 590L400 760L380 800L390 840"/>
<path class="l" d="M918 270L830 400L740 570"/>
<path class="l" d="M918 370L870 460L850 490L810 495"/>
<path class="l" d="M690 355L780 365L740 470L700 560L640 600L615 580L680 430Z"/>
<path class="l" d="M720 370L745 375L720 435L700 430Z"/>
<path class="l" d="M680 470L700 475L650 580L630 575Z"/>
<path class="l" d="M500 590L420 770L440 840"/>
<path class="l" d="M690 560L560 760L520 800L500 760"/>
<path class="l" d="M330 770L390 790"/>
<path class="l" d="M620 640Q640 610 700 595L760 610"/>
<path class="l" d="M620 640L610 680L650 690L640 720L670 740"/>
<path class="l" d="M650 620L670 650"/>
<path class="l" d="M820 620L860 600L918 590"/>
<path class="l" d="M860 540Q880 520 918 520"/>
<path class="l" d="M860 540Q850 580 880 600"/>
<path class="b" d="M800 670L918 740"/>
<path class="l" d="M820 640L918 700"/>
<path class="l" d="M430 780Q460 740 480 770L500 840L540 900"/>
<path class="l" d="M430 780L410 850L430 918"/>
<path class="l" d="M570 720L600 770L560 820L545 918"/>
<path class="l" d="M600 770L680 830"/>
<ellipse class="l" cx="605" cy="850" rx="15" ry="25"/>
<path class="l" d="M580 800Q640 790 640 850Q630 900 600 918"/>
<path class="l" d="M240 918Q280 880 340 890L390 850"/>
<path class="l" d="M700 870L760 830L830 850"/>
<path class="l" d="M780 800L830 840L870 770"/>
<path class="l" d="M800 720L770 820"/>
</g>
<g id="p8b" transform="translate(456,516) scale(0.108932)">
<path class="l" d="M150 30L0 190"/>
<path class="l" d="M210 30L60 190L0 270"/>
<path class="l" d="M225 150L200 220L160 250L60 260L30 290L0 370"/>
<path class="l" d="M160 250L280 295"/>
<path class="l" d="M170 270L20 500"/>
<path class="l" d="M410 60L280 295L130 570L90 580"/>
<path class="l" d="M670 30L290 800"/>
<path class="l" d="M0 500L45 500L80 550L60 600L20 605L0 580"/>
<circle class="l" cx="35" cy="565" r="20"/>
<path class="l" d="M90 580L100 610"/>
<path class="l" d="M80 600L20 700L10 720L180 750L185 790L170 800"/>
<path class="b" d="M0 740Q80 850 200 850L330 800Q440 760 560 790L680 860L750 918"/>
<path class="b" d="M0 790Q90 900 210 890L340 840Q450 800 560 830L650 880L670 918"/>
<path class="l" d="M240 918L260 870"/>
<path class="l" d="M760 70Q730 80 740 110Q760 140 800 130L820 180"/>
<path class="l" d="M870 75L850 130L860 180L840 220L820 260L870 340"/>
<circle class="l" cx="830" cy="150" r="12"/>
<path class="l" d="M800 180L790 290"/>
<path class="l" d="M800 130L860 140"/>
<path class="l" d="M760 290L800 295L805 330"/>
<path class="l" d="M760 290L720 420L620 680L580 790"/>
<path class="l" d="M780 345L860 360L850 410L830 430L770 400Z"/>
<path class="l" d="M770 470L800 475L680 800L640 810"/>
<path class="l" d="M770 470L690 650L630 800"/>
<path class="l" d="M830 430L740 720L700 850"/>
<path class="l" d="M860 480L840 700L800 918"/>
<path class="l" d="M760 600L740 720L760 745L740 800L720 850"/>
<path class="l" d="M730 740L770 745"/>
<path class="l" d="M540 918L560 870M600 918L610 880"/>
</g>
<g id="p8c" transform="translate(356,600) scale(0.108932)">
<path class="l" d="M110 150L50 250"/>
<path class="l" d="M250 130L380 150L385 190L350 215L240 230L250 130"/>
<path class="l" d="M250 130L130 340L130 375L185 395L175 430L140 435L235 480L245 520L230 560"/>
<path class="l" d="M240 230L320 260L500 320"/>
<path class="l" d="M330 210L500 260L520 310"/>
<path class="l" d="M380 150L400 100L380 80"/>
<path class="l" d="M330 250L190 470"/>
<path class="l" d="M400 290L80 850"/>
<path class="l" d="M450 310L140 855"/>
<path class="l" d="M470 160L430 230"/>
<path class="l" d="M390 420L500 470"/>
<path class="l" d="M520 480L400 720L350 860"/>
<path class="l" d="M555 500L430 740L390 860"/>
<path class="l" d="M500 150L540 170L545 260L520 310"/>
<path class="l" d="M430 130L460 100L490 130L530 250"/>
<path class="l" d="M565 150L580 200L560 260"/>
<path class="l" d="M600 170L640 130"/>
<path class="l" d="M560 260L600 300"/>
<path class="l" d="M490 360Q470 400 510 420L520 470L560 530L575 660L590 600L600 520L640 460L690 450"/>
<path class="l" d="M490 360L560 330L600 340"/>
<circle class="l" cx="600" cy="410" r="45"/>
<circle class="l" cx="605" cy="410" r="25"/>
<path class="l" d="M560 330L520 420"/>
<path class="l" d="M650 330L680 380L830 150"/>
<path class="l" d="M690 450L580 680L465 860"/>
<path class="l" d="M780 270L600 620"/>
<path class="l" d="M840 120L918 140"/>
<path class="l" d="M850 170L918 185"/>
<path class="l" d="M918 630L810 855"/>
<path class="l" d="M585 390L625 430M585 430L625 390"/>
</g>
<g id="p8d" transform="translate(456,600) scale(0.108932)">
<path class="b" d="M200 70L330 35Q440 0 540 20L640 70Q680 110 670 170"/>
<path class="b" d="M200 115L330 75Q440 45 560 65L620 100Q650 140 640 190"/>
<path class="l" d="M650 190L680 220L700 190L720 215"/>
<path class="l" d="M700 110Q740 120 720 170L710 200"/>
<path class="w" d="M495 250L640 250L640 390L600 360L560 400L490 325L525 290Z"/>
<path class="l" d="M0 140L80 170L70 190L0 175"/>
<path class="l" d="M250 115L0 640"/>
<path class="l" d="M530 170L500 250"/>
<path class="l" d="M580 170L555 240"/>
<path class="l" d="M640 190L600 260"/>
<path class="l" d="M480 250L455 270L410 390L385 500"/>
<path class="l" d="M500 270L455 470"/>
<path class="l" d="M470 410L560 430L580 415L630 425L620 470"/>
<path class="l" d="M180 715Q250 600 400 500L560 430"/>
<path class="l" d="M280 710Q360 600 520 520L640 430L700 350Q790 240 830 150"/>
<path class="l" d="M650 300L700 250"/>
<path class="l" d="M180 715L130 830"/>
<path class="l" d="M180 715L250 760"/>
<path class="l" d="M280 710L210 860"/>
<path class="l" d="M250 760L280 840Q300 870 320 830L330 790L290 775L260 790"/>
<path class="l" d="M410 600L330 800"/>
<path class="l" d="M490 570L370 860"/>
<path class="l" d="M530 530L520 740L610 780L590 860"/>
<path class="l" d="M540 705L630 745L690 610"/>
<path class="l" d="M690 360L700 700L710 855"/>
<path class="g" d="M750 290L760 600L775 855"/>
<path class="l" d="M750 350L850 385"/>
<path class="l" d="M760 455L850 480"/>
</g>
</g>
<!-- 85_p8over.svg -->
<g id="p8o">
<path d="M436.6 583.5Q443.1 581.4 445.3 587.9L442.1 599.9Q437.7 604.2 433.3 601Q431.2 594.4 436.6 583.5Z" fill="url(#dots)" stroke="#fff" stroke-width="1.8"/>
<path d="M418.6 627.8L424.1 633.9L444.8 615.3L439.3 609.2Z" fill="#555" stroke="#fff" stroke-width="1"/>
<path d="M418.6 627.8L424.1 633.9M420.2 626.4L425.7 632.5M421.8 624.9L427.3 631.0M423.4 623.5L428.9 629.6M425.0 622.1L430.5 628.2M426.6 620.6L432.1 626.7M428.2 619.2L433.7 625.3M429.7 617.8L435.2 623.9M431.3 616.4L436.8 622.5M432.9 614.9L438.4 621.0M434.5 613.5L440.0 619.6M436.1 612.1L441.6 618.2M437.7 610.6L443.2 616.7M439.3 609.2L444.8 615.3" fill="none" stroke="#fff" stroke-width="1.25"/>
</g>
<!-- 89_p9over.svg -->
<g id="p9o">
<path d="M611.4 607.1L652 607.1L653 606.5L668 606.5L669.4 608.2L669.4 621.8L667.8 623.4L657.4 622.3L652 627L647.9 632.7L644.6 646.8L632.6 649.6L611.9 653.4L608.6 643.6L607.6 630.5L609.7 617.4Z" fill="url(#dots)" stroke="#fff" stroke-width="0.9"/>
<rect x="612" y="621.5" width="36" height="4.2" fill="#6c6c6c"/>
<rect x="610" y="636" width="35" height="3.6" fill="#6c6c6c"/>
<rect x="627.4" y="608" width="5" height="41" fill="#666"/>
<circle cx="620.5" cy="615" r="3.2" fill="none" stroke="#eee" stroke-width="1"/>
<circle cx="621.5" cy="645.5" r="3.2" fill="none" stroke="#eee" stroke-width="1"/>
<circle cx="664" cy="612" r="2.6" fill="none" stroke="#eee" stroke-width="1"/>
</g>
<!-- 90_nums.svg -->
<g id="nums">
<ellipse cx="174.4" cy="162.7" rx="5.7" ry="5.95" fill="#000" stroke="#fff" stroke-width="1.4"/><path d="M173.30 160.50L174.80 158.90V166.50" fill="none" stroke="#fff" stroke-width="1.15" stroke-linejoin="miter"/>
<ellipse cx="368.4" cy="163.2" rx="5.7" ry="5.95" fill="#000" stroke="#fff" stroke-width="1.4"/><text x="368.4" y="166.9" font-size="10.4" text-anchor="middle">2</text>
<ellipse cx="563.0" cy="163.0" rx="5.7" ry="5.95" fill="#000" stroke="#fff" stroke-width="1.4"/><text x="563.0" y="166.7" font-size="10.4" text-anchor="middle">3</text>
<ellipse cx="174.5" cy="344.2" rx="5.7" ry="5.95" fill="#000" stroke="#fff" stroke-width="1.4"/><text x="174.5" y="347.9" font-size="10.4" text-anchor="middle">4</text>
<ellipse cx="368.7" cy="344.0" rx="5.7" ry="5.95" fill="#000" stroke="#fff" stroke-width="1.4"/><text x="368.7" y="347.7" font-size="10.4" text-anchor="middle">5</text>
<ellipse cx="562.6" cy="344.3" rx="5.7" ry="5.95" fill="#000" stroke="#fff" stroke-width="1.4"/><text x="562.6" y="348.0" font-size="10.4" text-anchor="middle">6</text>
<ellipse cx="174.5" cy="526.2" rx="5.7" ry="5.95" fill="#000" stroke="#fff" stroke-width="1.4"/><text x="174.5" y="529.9" font-size="10.4" text-anchor="middle">7</text>
<ellipse cx="368.4" cy="526.2" rx="5.7" ry="5.95" fill="#000" stroke="#fff" stroke-width="1.4"/><text x="368.4" y="529.9" font-size="10.4" text-anchor="middle">8</text>
<ellipse cx="562.6" cy="526.9" rx="5.7" ry="5.95" fill="#000" stroke="#fff" stroke-width="1.4"/><text x="562.6" y="530.6" font-size="10.4" text-anchor="middle">9</text>
<ellipse cx="174.6" cy="708.1" rx="5.7" ry="5.95" fill="#000" stroke="#fff" stroke-width="1.4"/><path d="M171.20 705.60L172.70 704.00V712.20" fill="none" stroke="#fff" stroke-width="1.15" stroke-linejoin="miter"/><text x="176.7" y="712.2" font-size="11.4" text-anchor="middle" textLength="3.9" lengthAdjust="spacingAndGlyphs">0</text>
<ellipse cx="368.6" cy="707.9" rx="5.7" ry="5.95" fill="#000" stroke="#fff" stroke-width="1.4"/><path d="M365.80 705.40L367.30 703.80V712.00" fill="none" stroke="#fff" stroke-width="1.15" stroke-linejoin="miter"/><path d="M369.40 705.40L370.90 703.80V712.00" fill="none" stroke="#fff" stroke-width="1.15" stroke-linejoin="miter"/>
<ellipse cx="563.0" cy="708.3" rx="5.7" ry="5.95" fill="#000" stroke="#fff" stroke-width="1.4"/><path d="M559.60 705.80L561.10 704.20V712.40" fill="none" stroke="#fff" stroke-width="1.15" stroke-linejoin="miter"/><text x="565.1" y="712.4" font-size="11.4" text-anchor="middle" textLength="3.9" lengthAdjust="spacingAndGlyphs">2</text>
</g>
<!-- 90_p9.svg -->
<g clip-path="url(#cp9)">
<g id="p9a" transform="translate(552,516) scale(0.108932)">
<path class="l" d="M75 195L85 270L40 310L30 350L35 440L70 490L75 560L50 600L45 680"/>
<path class="l" d="M105 190L110 270L140 295L180 300L215 340L225 420L260 445L270 490"/>
<path class="l" d="M215 180L225 300L235 350L270 370L280 420L275 450"/>
<path class="l" d="M235 350L225 420"/>
<path class="l" d="M105 340Q90 390 110 440"/>
<path class="l" d="M120 330L185 325"/>
<path class="l" d="M130 365L165 365L165 410L130 410Z"/>
<path class="g" d="M120 460L200 455"/>
<path class="l" d="M280 300L340 305L390 290L400 240L410 210L440 200L465 180"/>
<path class="l" d="M420 185L435 210"/>
<path class="l" d="M320 420Q400 400 480 310L560 180"/>
<path class="l" d="M580 180L550 300L480 530"/>
<path class="l" d="M480 310L540 300"/>
<path class="l" d="M440 370L480 350L470 330"/>
<path class="l" d="M440 370L455 530"/>
<path class="l" d="M395 400L400 520"/>
<path class="l" d="M555 240L620 235L640 260"/>
<circle class="l" cx="655" cy="240" r="25"/>
<path class="l" d="M700 180L680 240"/>
<path class="l" d="M745 180L745 290L690 340L640 380"/>
<path class="l" d="M865 190L865 330Q860 370 810 400L620 520L600 540"/>
<path class="l" d="M640 260L680 300L650 350L600 520"/>
<path class="l" d="M680 300L740 290"/>
<path class="l" d="M640 380Q680 390 700 420L620 500"/>
<path class="l" d="M700 420L740 380L745 290"/>
<path class="k" d="M330 660L470 535L590 530L665 615L655 640L565 720L530 730L380 710Z"/>
<path class="l" d="M470 535L580 540L440 660L340 665"/>
<path class="l" d="M225 510L270 500L275 545L230 550Z"/>
<path class="l" d="M275 515L400 520"/>
<path class="g" d="M300 550L400 550"/>
<path class="l" d="M100 550L210 560L240 580"/>
<path class="l" d="M125 590Q110 640 135 690"/>
<path class="l" d="M70 720L100 740L210 710L230 690"/>
<path class="l" d="M70 720L85 800L90 918"/>
<path class="l" d="M260 590L240 660L235 800L245 918"/>
<path class="l" d="M270 610L360 600L330 670L270 680Z"/>
<path class="l" d="M290 610L285 675M310 605L305 672M335 603L320 670"/>
<path class="l" d="M320 690L400 730L400 918"/>
<path class="l" d="M260 700L330 720"/>
<path class="l" d="M270 770L390 750L380 800L270 810Z"/>
<path class="l" d="M300 760L295 805M340 755L330 800"/>
<path class="l" d="M440 730L450 918"/>
<path class="l" d="M250 850L390 830"/>
<path class="l" d="M260 890L390 870"/>
<circle class="l" cx="450" cy="890" r="18"/>
<path class="l" d="M500 740L540 760L545 830"/>
<path class="l" d="M560 720L700 630L860 580L918 550"/>
<path class="l" d="M790 620L800 650L918 650"/>
<path class="l" d="M820 615L815 650M850 612L848 648M880 610L880 645M910 608L910 645"/>
<path class="l" d="M880 575L918 565"/>
<path class="l" d="M690 700L800 695L805 740L690 745Z"/>
<path class="l" d="M720 700L720 740M760 698L760 740"/>
<path class="l" d="M820 710L918 705"/>
<path class="l" d="M830 700L860 690L918 690"/>
<path d="M595 760L918 755L918 825L590 830Z" fill="#8c8c8c" stroke="#fff" stroke-width="1" vector-effect="non-scaling-stroke"/>
<path class="l" d="M630 765L630 825M670 765L670 825M710 762L710 825M750 760L750 825M790 760L790 825M830 758L830 825M870 758L870 825"/>
</g>
<g id="p9b" transform="translate(652,516) scale(0.108932)">
<path class="l" d="M30 195L35 300L60 360L100 410L125 460"/>
<ellipse class="l" cx="100" cy="235" rx="40" ry="55"/>
<ellipse class="l" cx="100" cy="235" rx="25" ry="38"/>
<path class="l" d="M165 180L180 230L270 245L330 240L360 225L380 200L360 180"/>
<path class="l" d="M170 270L270 265L300 250"/>
<path class="l" d="M165 180L170 320L150 400L125 460L30 520L0 540"/>
<circle class="l" cx="410" cy="255" r="35"/>
<circle class="l" cx="400" cy="255" r="18"/>
<path class="l" d="M330 240Q320 330 380 370Q440 400 500 340L510 310"/>
<path class="l" d="M450 180L470 230L520 380L560 480L600 560L665 660"/>
<path class="l" d="M520 180L525 230L560 340L610 460L660 560L715 655"/>
<path class="l" d="M470 230L610 225L615 330L570 335"/>
<path class="l" d="M625 180L640 320L660 340Q700 320 720 335L760 340Q820 330 870 255"/>
<circle class="l" cx="745" cy="205" r="38"/>
<circle class="l" cx="745" cy="205" r="20"/>
<path class="l" d="M725 190L765 220M730 215L760 190"/>
<path class="l" d="M300 690L450 660L480 680L540 680L665 660L715 655L855 655"/>
<path class="w" d="M165 665L195 695L245 655L325 730L280 775L312 812L165 812Z"/>
<circle class="l" cx="385" cy="765" r="25"/>
<path class="l" d="M372 755L398 755M372 765L398 765M372 775L398 775"/>
<path class="l" d="M225 820L195 918"/>
<path class="l" d="M0 560L40 545L45 580"/>
<path class="l" d="M30 620Q80 590 150 570"/>
<ellipse class="l" cx="165" cy="550" rx="22" ry="25"/>
<path class="l" d="M60 650Q80 620 140 585"/>
<path class="l" d="M0 600L40 600L50 660"/>
<path class="l" d="M20 680L80 680L100 700Q110 760 60 810L30 830"/>
</g>
<g id="p9c" transform="translate(552,600) scale(0.108932)">
<path class="l" d="M88 150L75 220L45 320"/>
<path class="l" d="M235 150L235 300L230 420L240 560"/>
<path class="l" d="M260 50L390 30L385 430"/>
<path class="l" d="M250 140L370 115"/>
<path class="l" d="M250 250L375 230"/>
<path class="l" d="M245 345L340 320"/>
<path class="l" d="M245 400Q300 360 385 350"/>
<path class="l" d="M450 150L440 200L435 430"/>
<ellipse class="l" cx="455" cy="125" rx="28" ry="22"/>
<path class="l" d="M480 110L540 130L545 160L480 145"/>
<path class="l" d="M235 430L400 425L430 430L435 470L400 470L240 460Z"/>
<path class="l" d="M245 470L330 460"/>
<path class="l" d="M250 500L330 470"/>
<path class="l" d="M30 380L120 370Q155 380 160 430L150 500"/>
<path class="l" d="M65 410L100 405L105 480L70 485Z"/>
<path class="l" d="M30 505L240 560L550 490"/>
<path class="l" d="M380 480L385 520"/>
<path class="l" d="M918 200L830 480L790 600"/>
<path class="l" d="M918 300L870 480L830 690"/>
<path class="l" d="M790 600L830 610L840 640L825 690L790 680L780 640Z"/>
<path class="l" d="M780 680L740 710L720 790"/>
<path class="l" d="M830 700L810 790"/>
<path class="l" d="M918 510L850 690"/>
</g>
<g id="p9d" transform="translate(652,600) scale(0.108932)">
<path class="l" d="M225 50Q210 140 170 195"/>
<path class="l" d="M175 215L440 262"/>
<path class="l" d="M0 500L65 330Q80 305 110 305L290 345Q330 360 325 395L280 500L140 795"/>
</g>
</g>
<!-- 99a_p10over.svg -->
<g id="p10o">
<rect x="267.3" y="792.3" width="23.9" height="28.3" fill="#989898" stroke="#fff" stroke-width="1.3"/>
<rect x="267.8" y="793" width="3.4" height="8.4" fill="url(#dots)"/>
<rect x="281.7" y="793" width="3" height="27" fill="url(#dots)"/>
<rect x="285.6" y="793" width="5" height="5.2" fill="#707070"/>
<rect x="285.2" y="806" width="5.4" height="6" fill="#7c7c7c"/>
<rect x="270.8" y="801.6" width="10.9" height="4.2" fill="#000"/>
<path d="M271.3 802.6H281.2M271.3 804.7H281.2" stroke="#eee" stroke-width="1" fill="none"/>
<rect x="271.3" y="806.1" width="10.4" height="6.1" fill="#000"/>
<ellipse cx="276.2" cy="808.8" rx="2.8" ry="1.9" fill="#eee"/>
<rect x="270.8" y="812.4" width="10.9" height="1.8" fill="#bbb"/>
<rect x="260.6" y="814.4" width="20" height="6.2" rx="1" fill="#858585" stroke="#fff" stroke-width="1.2"/>
<rect x="273" y="816.4" width="6" height="2.3" rx="1" fill="#000" stroke="#ddd" stroke-width="0.6"/>
<rect x="262" y="816" width="6" height="3.5" fill="url(#dots)"/>
</g>
<!-- 99b_p11over.svg -->
<g id="p11o">
<path class="w" d="M450.3 817.4L462.6 825.1L458.2 826.6L458.5 833.3L447.3 835.3L446 828.3L440.8 828.4Z"/>
<circle cx="443.2" cy="831.6" r="2.7" fill="#000" stroke="#fff" stroke-width="0.8"/>
</g>
<!-- 99c_p12over.svg -->
<g id="p12o">
<path class="w" d="M654.1 822.5L657.7 836.7L652.8 834.1L649.5 840.5L639.3 834.1L642.7 828.3L638.7 825.4Z"/>
<text x="708.9" y="878.9" font-size="7.6" text-anchor="middle" textLength="32" lengthAdjust="spacingAndGlyphs" style="fill:#ddd">PIIB5663E</text>
</g>
</svg>
</body></html>
